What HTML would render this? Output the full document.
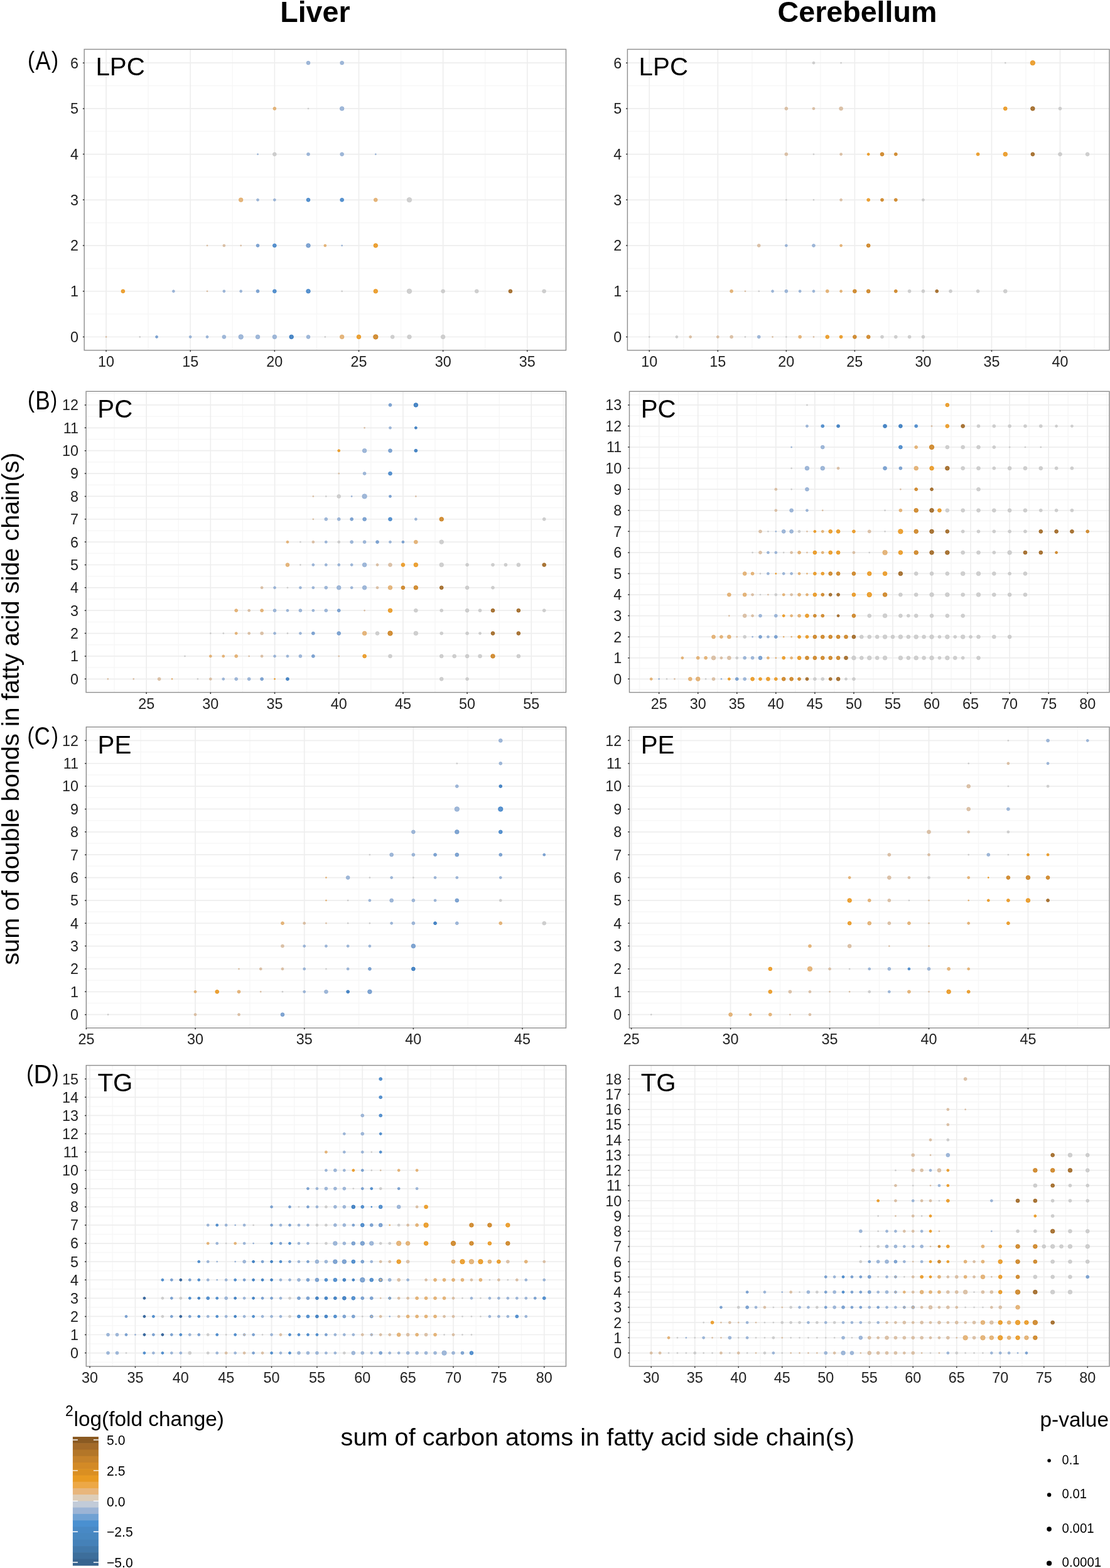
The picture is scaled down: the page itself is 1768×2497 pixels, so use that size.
<!DOCTYPE html>
<html><head><meta charset="utf-8"><title>Lipid fold change</title>
<style>
html,body{margin:0;padding:0;background:#fff;}
body{width:1768px;height:2497px;overflow:hidden;}
svg{display:block;}
.dots circle{fill-opacity:0.78;stroke-opacity:0.78;stroke-width:1;}
text{font-family:"Liberation Sans", Arial, Helvetica, sans-serif;}
.tk{font-size:23.4px;fill:#222;}
.pl{font-size:40.3px;fill:#000;}
.let{font-size:100px;fill:#000;}
.ti{font-size:46.6px;font-weight:bold;fill:#000;}
.at{font-size:39.7px;fill:#000;}
.lt{font-size:33.4px;fill:#000;}
.lt2{font-size:23px;fill:#000;}
.lg{font-size:21.8px;fill:#000;}
</style></head>
<body>
<svg width="1768" height="2497" viewBox="0 0 1768 2497">
<rect width="1768" height="2497" fill="#fff"/>
<g id="pAL">
<path d="M236.15 78.5V557.8M370.29 78.5V557.8M504.44 78.5V557.8M638.58 78.5V557.8M772.72 78.5V557.8M134.2 500.12H901.5M134.2 427.4H901.5M134.2 354.68H901.5M134.2 281.97H901.5M134.2 209.25H901.5M134.2 136.53H901.5" stroke="#f7f7f7" stroke-width="1.5" fill="none"/>
<path d="M169.08 78.5V557.8M303.22 78.5V557.8M437.36 78.5V557.8M571.51 78.5V557.8M705.65 78.5V557.8M839.79 78.5V557.8M134.2 536.48H901.5M134.2 463.76H901.5M134.2 391.04H901.5M134.2 318.32H901.5M134.2 245.61H901.5M134.2 172.89H901.5M134.2 100.17H901.5" stroke="#eeeeee" stroke-width="1.7" fill="none"/>
<g class="dots">
<g fill="#88a6cf" stroke="#88a6cf">
<circle cx="491.02" cy="100.17" r="2.85"/>
<circle cx="544.68" cy="100.17" r="2.85"/>
<circle cx="544.68" cy="172.89" r="3.25"/>
<circle cx="410.54" cy="245.61" r="0.95"/>
<circle cx="491.02" cy="245.61" r="2.4"/>
<circle cx="544.68" cy="245.61" r="2.85"/>
<circle cx="598.34" cy="245.61" r="0.95"/>
<circle cx="410.54" cy="318.32" r="1.9"/>
<circle cx="437.36" cy="318.32" r="1.9"/>
<circle cx="544.68" cy="391.04" r="0.95"/>
<circle cx="276.39" cy="463.76" r="1.9"/>
<circle cx="356.88" cy="463.76" r="1.9"/>
<circle cx="383.71" cy="463.76" r="1.9"/>
<circle cx="303.22" cy="536.48" r="1.9"/>
<circle cx="330.05" cy="536.48" r="1.9"/>
<circle cx="356.88" cy="536.48" r="2.85"/>
<circle cx="383.71" cy="536.48" r="3.7"/>
<circle cx="410.54" cy="536.48" r="3.25"/>
<circle cx="437.36" cy="536.48" r="3.25"/>
<circle cx="491.02" cy="536.48" r="2.85"/>
</g>
<g fill="#dfa45c" stroke="#dfa45c">
<circle cx="437.36" cy="172.89" r="2.4"/>
<circle cx="383.71" cy="318.32" r="3.25"/>
<circle cx="598.34" cy="318.32" r="2.85"/>
<circle cx="517.85" cy="391.04" r="1.9"/>
<circle cx="544.68" cy="536.48" r="3.25"/>
</g>
<g fill="#c4c4c4" stroke="#c4c4c4">
<circle cx="491.02" cy="172.89" r="0.95"/>
<circle cx="437.36" cy="245.61" r="2.85"/>
<circle cx="651.99" cy="318.32" r="3.7"/>
<circle cx="544.68" cy="463.76" r="0.95"/>
<circle cx="651.99" cy="463.76" r="3.7"/>
<circle cx="705.65" cy="463.76" r="2.85"/>
<circle cx="759.31" cy="463.76" r="2.85"/>
<circle cx="866.62" cy="463.76" r="2.85"/>
<circle cx="222.73" cy="536.48" r="0.95"/>
<circle cx="517.85" cy="536.48" r="0.95"/>
<circle cx="625.16" cy="536.48" r="2.85"/>
<circle cx="651.99" cy="536.48" r="3.25"/>
<circle cx="705.65" cy="536.48" r="3.25"/>
</g>
<g fill="#3079c4" stroke="#3079c4">
<circle cx="491.02" cy="318.32" r="2.85"/>
<circle cx="544.68" cy="318.32" r="2.85"/>
<circle cx="437.36" cy="391.04" r="2.85"/>
<circle cx="437.36" cy="463.76" r="2.85"/>
<circle cx="491.02" cy="463.76" r="3.25"/>
</g>
<g fill="#d4b494" stroke="#d4b494">
<circle cx="330.05" cy="391.04" r="0.95"/>
<circle cx="356.88" cy="391.04" r="1.9"/>
<circle cx="383.71" cy="391.04" r="0.95"/>
<circle cx="330.05" cy="463.76" r="0.95"/>
<circle cx="169.08" cy="536.48" r="0.95"/>
</g>
<g fill="#6290c8" stroke="#6290c8">
<circle cx="410.54" cy="391.04" r="2.4"/>
<circle cx="491.02" cy="391.04" r="3.25"/>
<circle cx="410.54" cy="463.76" r="2.4"/>
<circle cx="249.56" cy="536.48" r="1.9"/>
</g>
<g fill="#e88c05" stroke="#e88c05">
<circle cx="598.34" cy="391.04" r="3.25"/>
<circle cx="195.91" cy="463.76" r="2.85"/>
<circle cx="598.34" cy="463.76" r="3.25"/>
<circle cx="571.51" cy="536.48" r="3.25"/>
</g>
<g fill="#955508" stroke="#955508">
<circle cx="812.97" cy="463.76" r="2.85"/>
</g>
<g fill="#1f6ab9" stroke="#1f6ab9">
<circle cx="464.19" cy="536.48" r="3.25"/>
</g>
<g fill="#c87408" stroke="#c87408">
<circle cx="598.34" cy="536.48" r="3.7"/>
</g>
</g>
<rect x="134.2" y="78.5" width="767.3" height="479.3" fill="none" stroke="#8e8e8e" stroke-width="1.4"/>
<path d="M169.08 557.8V560.1M303.22 557.8V560.1M437.36 557.8V560.1M571.51 557.8V560.1M705.65 557.8V560.1M839.79 557.8V560.1M134.2 536.48H131.9M134.2 463.76H131.9M134.2 391.04H131.9M134.2 318.32H131.9M134.2 245.61H131.9M134.2 172.89H131.9M134.2 100.17H131.9" stroke="#333" stroke-width="1.5" fill="none"/>
<text x="125" y="544.88" text-anchor="end" class="tk">0</text>
<text x="125" y="472.16" text-anchor="end" class="tk">1</text>
<text x="125" y="399.44" text-anchor="end" class="tk">2</text>
<text x="125" y="326.72" text-anchor="end" class="tk">3</text>
<text x="125" y="254.01" text-anchor="end" class="tk">4</text>
<text x="125" y="181.29" text-anchor="end" class="tk">5</text>
<text x="125" y="108.57" text-anchor="end" class="tk">6</text>
<text x="169.08" y="584.2" text-anchor="middle" class="tk">10</text>
<text x="303.22" y="584.2" text-anchor="middle" class="tk">15</text>
<text x="437.36" y="584.2" text-anchor="middle" class="tk">20</text>
<text x="571.51" y="584.2" text-anchor="middle" class="tk">25</text>
<text x="705.65" y="584.2" text-anchor="middle" class="tk">30</text>
<text x="839.79" y="584.2" text-anchor="middle" class="tk">35</text>
<text x="152.4" y="120.3" class="pl">LPC</text>
</g>
<g id="pAR">
<path d="M1088.81 78.5V557.8M1197.84 78.5V557.8M1306.88 78.5V557.8M1415.91 78.5V557.8M1524.94 78.5V557.8M1633.98 78.5V557.8M1743.01 78.5V557.8M999.4 500.12H1767M999.4 427.4H1767M999.4 354.68H1767M999.4 281.97H1767M999.4 209.25H1767M999.4 136.53H1767" stroke="#f7f7f7" stroke-width="1.5" fill="none"/>
<path d="M1034.29 78.5V557.8M1143.33 78.5V557.8M1252.36 78.5V557.8M1361.39 78.5V557.8M1470.43 78.5V557.8M1579.46 78.5V557.8M1688.5 78.5V557.8M999.4 536.48H1767M999.4 463.76H1767M999.4 391.04H1767M999.4 318.32H1767M999.4 245.61H1767M999.4 172.89H1767M999.4 100.17H1767" stroke="#eeeeee" stroke-width="1.7" fill="none"/>
<g class="dots">
<g fill="#c4c4c4" stroke="#c4c4c4">
<circle cx="1295.97" cy="100.17" r="1.9"/>
<circle cx="1339.59" cy="100.17" r="0.95"/>
<circle cx="1601.27" cy="100.17" r="0.95"/>
<circle cx="1688.5" cy="172.89" r="2.4"/>
<circle cx="1295.97" cy="245.61" r="0.95"/>
<circle cx="1688.5" cy="245.61" r="2.85"/>
<circle cx="1732.11" cy="245.61" r="2.85"/>
<circle cx="1252.36" cy="318.32" r="0.95"/>
<circle cx="1295.97" cy="318.32" r="0.95"/>
<circle cx="1470.43" cy="318.32" r="1.9"/>
<circle cx="1208.75" cy="463.76" r="0.95"/>
<circle cx="1448.62" cy="463.76" r="2.4"/>
<circle cx="1470.43" cy="463.76" r="2.4"/>
<circle cx="1514.04" cy="463.76" r="2.4"/>
<circle cx="1557.65" cy="463.76" r="2.4"/>
<circle cx="1601.27" cy="463.76" r="2.85"/>
<circle cx="1034.29" cy="536.48" r="0.95"/>
<circle cx="1077.9" cy="536.48" r="1.9"/>
<circle cx="1186.94" cy="536.48" r="0.95"/>
<circle cx="1252.36" cy="536.48" r="0.95"/>
<circle cx="1405.01" cy="536.48" r="2.4"/>
<circle cx="1426.81" cy="536.48" r="2.4"/>
<circle cx="1448.62" cy="536.48" r="2.4"/>
<circle cx="1470.43" cy="536.48" r="2.4"/>
</g>
<g fill="#e88c05" stroke="#e88c05">
<circle cx="1644.88" cy="100.17" r="3.7"/>
<circle cx="1601.27" cy="172.89" r="2.85"/>
<circle cx="1383.2" cy="245.61" r="1.9"/>
<circle cx="1557.65" cy="245.61" r="2.4"/>
<circle cx="1601.27" cy="245.61" r="3.25"/>
<circle cx="1383.2" cy="318.32" r="2.4"/>
<circle cx="1317.78" cy="536.48" r="2.85"/>
<circle cx="1339.59" cy="536.48" r="2.4"/>
</g>
<g fill="#d4b494" stroke="#d4b494">
<circle cx="1252.36" cy="172.89" r="2.4"/>
<circle cx="1295.97" cy="172.89" r="1.9"/>
<circle cx="1339.59" cy="172.89" r="2.85"/>
<circle cx="1252.36" cy="245.61" r="2.4"/>
<circle cx="1339.59" cy="245.61" r="1.9"/>
<circle cx="1339.59" cy="318.32" r="1.9"/>
<circle cx="1208.75" cy="391.04" r="2.4"/>
<circle cx="1186.94" cy="463.76" r="0.95"/>
<circle cx="1099.71" cy="536.48" r="1.9"/>
<circle cx="1143.33" cy="536.48" r="1.9"/>
<circle cx="1165.13" cy="536.48" r="2.4"/>
<circle cx="1230.55" cy="536.48" r="0.95"/>
<circle cx="1295.97" cy="536.48" r="0.95"/>
</g>
<g fill="#955508" stroke="#955508">
<circle cx="1644.88" cy="172.89" r="3.25"/>
<circle cx="1644.88" cy="245.61" r="2.85"/>
<circle cx="1492.23" cy="463.76" r="2.4"/>
</g>
<g fill="#c87408" stroke="#c87408">
<circle cx="1405.01" cy="245.61" r="2.85"/>
<circle cx="1426.81" cy="245.61" r="2.4"/>
<circle cx="1405.01" cy="318.32" r="2.4"/>
<circle cx="1426.81" cy="318.32" r="2.4"/>
<circle cx="1383.2" cy="391.04" r="2.85"/>
<circle cx="1361.39" cy="463.76" r="2.85"/>
<circle cx="1383.2" cy="463.76" r="2.85"/>
<circle cx="1426.81" cy="463.76" r="2.4"/>
<circle cx="1361.39" cy="536.48" r="2.85"/>
<circle cx="1383.2" cy="536.48" r="2.85"/>
</g>
<g fill="#88a6cf" stroke="#88a6cf">
<circle cx="1252.36" cy="391.04" r="1.9"/>
<circle cx="1295.97" cy="391.04" r="2.4"/>
<circle cx="1230.55" cy="463.76" r="1.9"/>
<circle cx="1252.36" cy="463.76" r="2.4"/>
<circle cx="1274.17" cy="463.76" r="1.9"/>
<circle cx="1295.97" cy="463.76" r="1.9"/>
<circle cx="1208.75" cy="536.48" r="2.4"/>
</g>
<g fill="#dfa45c" stroke="#dfa45c">
<circle cx="1339.59" cy="391.04" r="1.9"/>
<circle cx="1165.13" cy="463.76" r="2.4"/>
<circle cx="1317.78" cy="463.76" r="2.4"/>
<circle cx="1339.59" cy="463.76" r="1.9"/>
<circle cx="1274.17" cy="536.48" r="2.4"/>
</g>
</g>
<rect x="999.4" y="78.5" width="767.6" height="479.3" fill="none" stroke="#8e8e8e" stroke-width="1.4"/>
<path d="M1034.29 557.8V560.1M1143.33 557.8V560.1M1252.36 557.8V560.1M1361.39 557.8V560.1M1470.43 557.8V560.1M1579.46 557.8V560.1M1688.5 557.8V560.1M999.4 536.48H997.1M999.4 463.76H997.1M999.4 391.04H997.1M999.4 318.32H997.1M999.4 245.61H997.1M999.4 172.89H997.1M999.4 100.17H997.1" stroke="#333" stroke-width="1.5" fill="none"/>
<text x="990.2" y="544.88" text-anchor="end" class="tk">0</text>
<text x="990.2" y="472.16" text-anchor="end" class="tk">1</text>
<text x="990.2" y="399.44" text-anchor="end" class="tk">2</text>
<text x="990.2" y="326.72" text-anchor="end" class="tk">3</text>
<text x="990.2" y="254.01" text-anchor="end" class="tk">4</text>
<text x="990.2" y="181.29" text-anchor="end" class="tk">5</text>
<text x="990.2" y="108.57" text-anchor="end" class="tk">6</text>
<text x="1034.29" y="584.2" text-anchor="middle" class="tk">10</text>
<text x="1143.33" y="584.2" text-anchor="middle" class="tk">15</text>
<text x="1252.36" y="584.2" text-anchor="middle" class="tk">20</text>
<text x="1361.39" y="584.2" text-anchor="middle" class="tk">25</text>
<text x="1470.43" y="584.2" text-anchor="middle" class="tk">30</text>
<text x="1579.46" y="584.2" text-anchor="middle" class="tk">35</text>
<text x="1688.5" y="584.2" text-anchor="middle" class="tk">40</text>
<text x="1017.6" y="120.3" class="pl">LPC</text>
</g>
<g id="pBL">
<path d="M182.06 623.3V1102.6M284.26 623.3V1102.6M386.45 623.3V1102.6M488.64 623.3V1102.6M590.83 623.3V1102.6M693.03 623.3V1102.6M795.22 623.3V1102.6M897.41 623.3V1102.6M137.1 1099.46H901.5M137.1 1063.1H901.5M137.1 1026.74H901.5M137.1 990.38H901.5M137.1 954.02H901.5M137.1 917.66H901.5M137.1 881.3H901.5M137.1 844.95H901.5M137.1 808.59H901.5M137.1 772.23H901.5M137.1 735.87H901.5M137.1 699.51H901.5M137.1 663.15H901.5M137.1 626.79H901.5" stroke="#f7f7f7" stroke-width="1.5" fill="none"/>
<path d="M233.16 623.3V1102.6M335.35 623.3V1102.6M437.55 623.3V1102.6M539.74 623.3V1102.6M641.93 623.3V1102.6M744.12 623.3V1102.6M846.32 623.3V1102.6M137.1 1081.28H901.5M137.1 1044.92H901.5M137.1 1008.56H901.5M137.1 972.2H901.5M137.1 935.84H901.5M137.1 899.48H901.5M137.1 863.12H901.5M137.1 826.77H901.5M137.1 790.41H901.5M137.1 754.05H901.5M137.1 717.69H901.5M137.1 681.33H901.5M137.1 644.97H901.5" stroke="#eeeeee" stroke-width="1.7" fill="none"/>
<g class="dots">
<g fill="#6290c8" stroke="#6290c8">
<circle cx="621.49" cy="644.97" r="2.4"/>
<circle cx="621.49" cy="717.69" r="2.85"/>
<circle cx="621.49" cy="790.41" r="1.9"/>
<circle cx="560.18" cy="826.77" r="2.4"/>
<circle cx="580.62" cy="826.77" r="2.85"/>
<circle cx="601.05" cy="863.12" r="2.4"/>
<circle cx="641.93" cy="863.12" r="1.9"/>
<circle cx="539.74" cy="972.2" r="2.4"/>
<circle cx="498.86" cy="1008.56" r="2.4"/>
<circle cx="539.74" cy="1008.56" r="2.85"/>
<circle cx="498.86" cy="1044.92" r="2.4"/>
<circle cx="417.11" cy="1081.28" r="2.4"/>
</g>
<g fill="#1f6ab9" stroke="#1f6ab9">
<circle cx="662.37" cy="644.97" r="3.25"/>
<circle cx="662.37" cy="681.33" r="1.9"/>
<circle cx="662.37" cy="717.69" r="2.4"/>
<circle cx="457.98" cy="1081.28" r="2.4"/>
</g>
<g fill="#d4b494" stroke="#d4b494">
<circle cx="580.62" cy="681.33" r="0.95"/>
<circle cx="539.74" cy="754.05" r="0.95"/>
<circle cx="498.86" cy="790.41" r="0.95"/>
<circle cx="662.37" cy="790.41" r="0.95"/>
<circle cx="498.86" cy="826.77" r="0.95"/>
<circle cx="498.86" cy="863.12" r="1.9"/>
<circle cx="601.05" cy="899.48" r="1.9"/>
<circle cx="621.49" cy="899.48" r="2.85"/>
<circle cx="417.11" cy="935.84" r="1.9"/>
<circle cx="601.05" cy="935.84" r="1.9"/>
<circle cx="396.67" cy="972.2" r="1.9"/>
<circle cx="580.62" cy="972.2" r="0.95"/>
<circle cx="396.67" cy="1008.56" r="1.9"/>
<circle cx="417.11" cy="1008.56" r="2.4"/>
<circle cx="396.67" cy="1044.92" r="0.95"/>
<circle cx="417.11" cy="1044.92" r="1.9"/>
<circle cx="539.74" cy="1044.92" r="0.95"/>
<circle cx="171.85" cy="1081.28" r="0.95"/>
<circle cx="212.72" cy="1081.28" r="0.95"/>
<circle cx="253.6" cy="1081.28" r="2.4"/>
<circle cx="335.35" cy="1081.28" r="1.9"/>
</g>
<g fill="#88a6cf" stroke="#88a6cf">
<circle cx="621.49" cy="681.33" r="1.9"/>
<circle cx="580.62" cy="717.69" r="3.25"/>
<circle cx="580.62" cy="754.05" r="2.4"/>
<circle cx="560.18" cy="790.41" r="0.95"/>
<circle cx="580.62" cy="790.41" r="3.7"/>
<circle cx="519.3" cy="826.77" r="2.4"/>
<circle cx="539.74" cy="826.77" r="2.4"/>
<circle cx="662.37" cy="826.77" r="1.9"/>
<circle cx="519.3" cy="863.12" r="1.9"/>
<circle cx="560.18" cy="863.12" r="2.4"/>
<circle cx="580.62" cy="863.12" r="2.4"/>
<circle cx="621.49" cy="863.12" r="1.9"/>
<circle cx="498.86" cy="899.48" r="1.9"/>
<circle cx="519.3" cy="899.48" r="1.9"/>
<circle cx="539.74" cy="899.48" r="1.9"/>
<circle cx="560.18" cy="899.48" r="1.9"/>
<circle cx="580.62" cy="899.48" r="3.25"/>
<circle cx="437.55" cy="935.84" r="1.9"/>
<circle cx="478.42" cy="935.84" r="1.9"/>
<circle cx="498.86" cy="935.84" r="1.9"/>
<circle cx="519.3" cy="935.84" r="2.4"/>
<circle cx="539.74" cy="935.84" r="3.25"/>
<circle cx="560.18" cy="935.84" r="1.9"/>
<circle cx="580.62" cy="935.84" r="3.25"/>
<circle cx="437.55" cy="972.2" r="2.4"/>
<circle cx="457.98" cy="972.2" r="1.9"/>
<circle cx="478.42" cy="972.2" r="2.4"/>
<circle cx="498.86" cy="972.2" r="1.9"/>
<circle cx="519.3" cy="972.2" r="2.4"/>
<circle cx="437.55" cy="1008.56" r="1.9"/>
<circle cx="478.42" cy="1008.56" r="1.9"/>
<circle cx="437.55" cy="1044.92" r="1.9"/>
<circle cx="457.98" cy="1044.92" r="1.9"/>
<circle cx="478.42" cy="1044.92" r="2.4"/>
<circle cx="355.79" cy="1081.28" r="1.9"/>
<circle cx="376.23" cy="1081.28" r="2.4"/>
<circle cx="396.67" cy="1081.28" r="2.4"/>
</g>
<g fill="#e88c05" stroke="#e88c05">
<circle cx="539.74" cy="717.69" r="1.9"/>
<circle cx="641.93" cy="899.48" r="2.85"/>
<circle cx="662.37" cy="899.48" r="3.25"/>
<circle cx="621.49" cy="972.2" r="3.25"/>
<circle cx="580.62" cy="1044.92" r="2.85"/>
<circle cx="437.55" cy="1081.28" r="0.95"/>
</g>
<g fill="#3079c4" stroke="#3079c4">
<circle cx="621.49" cy="754.05" r="2.85"/>
<circle cx="621.49" cy="826.77" r="2.85"/>
</g>
<g fill="#c4c4c4" stroke="#c4c4c4">
<circle cx="519.3" cy="790.41" r="0.95"/>
<circle cx="539.74" cy="790.41" r="2.85"/>
<circle cx="866.75" cy="826.77" r="2.4"/>
<circle cx="478.42" cy="863.12" r="0.95"/>
<circle cx="539.74" cy="863.12" r="1.9"/>
<circle cx="703.25" cy="863.12" r="3.25"/>
<circle cx="478.42" cy="899.48" r="0.95"/>
<circle cx="703.25" cy="899.48" r="3.25"/>
<circle cx="744.12" cy="899.48" r="2.4"/>
<circle cx="785" cy="899.48" r="2.4"/>
<circle cx="805.44" cy="899.48" r="2.4"/>
<circle cx="825.88" cy="899.48" r="2.85"/>
<circle cx="457.98" cy="935.84" r="0.95"/>
<circle cx="744.12" cy="935.84" r="2.85"/>
<circle cx="785" cy="935.84" r="2.4"/>
<circle cx="662.37" cy="972.2" r="2.85"/>
<circle cx="703.25" cy="972.2" r="2.4"/>
<circle cx="744.12" cy="972.2" r="2.85"/>
<circle cx="764.56" cy="972.2" r="2.4"/>
<circle cx="866.75" cy="972.2" r="2.4"/>
<circle cx="335.35" cy="1008.56" r="0.95"/>
<circle cx="355.79" cy="1008.56" r="0.95"/>
<circle cx="457.98" cy="1008.56" r="0.95"/>
<circle cx="601.05" cy="1008.56" r="2.85"/>
<circle cx="662.37" cy="1008.56" r="3.25"/>
<circle cx="703.25" cy="1008.56" r="2.4"/>
<circle cx="744.12" cy="1008.56" r="2.4"/>
<circle cx="764.56" cy="1008.56" r="1.9"/>
<circle cx="294.48" cy="1044.92" r="0.95"/>
<circle cx="621.49" cy="1044.92" r="2.85"/>
<circle cx="703.25" cy="1044.92" r="2.85"/>
<circle cx="723.69" cy="1044.92" r="2.85"/>
<circle cx="744.12" cy="1044.92" r="2.85"/>
<circle cx="764.56" cy="1044.92" r="2.85"/>
<circle cx="825.88" cy="1044.92" r="2.85"/>
<circle cx="314.91" cy="1081.28" r="0.95"/>
<circle cx="703.25" cy="1081.28" r="2.85"/>
<circle cx="744.12" cy="1081.28" r="2.4"/>
</g>
<g fill="#c87408" stroke="#c87408">
<circle cx="703.25" cy="826.77" r="3.25"/>
<circle cx="641.93" cy="935.84" r="2.85"/>
<circle cx="662.37" cy="935.84" r="3.25"/>
<circle cx="621.49" cy="1008.56" r="3.7"/>
<circle cx="785" cy="1044.92" r="3.25"/>
</g>
<g fill="#dfa45c" stroke="#dfa45c">
<circle cx="457.98" cy="863.12" r="1.9"/>
<circle cx="662.37" cy="863.12" r="2.85"/>
<circle cx="457.98" cy="899.48" r="2.85"/>
<circle cx="621.49" cy="935.84" r="3.25"/>
<circle cx="376.23" cy="972.2" r="2.4"/>
<circle cx="417.11" cy="972.2" r="2.4"/>
<circle cx="376.23" cy="1008.56" r="1.9"/>
<circle cx="580.62" cy="1008.56" r="3.25"/>
<circle cx="335.35" cy="1044.92" r="1.9"/>
<circle cx="355.79" cy="1044.92" r="1.9"/>
<circle cx="376.23" cy="1044.92" r="2.4"/>
<circle cx="274.04" cy="1081.28" r="0.95"/>
</g>
<g fill="#955508" stroke="#955508">
<circle cx="866.75" cy="899.48" r="2.85"/>
<circle cx="703.25" cy="935.84" r="2.85"/>
<circle cx="785" cy="972.2" r="2.85"/>
<circle cx="825.88" cy="972.2" r="2.85"/>
<circle cx="785" cy="1008.56" r="2.85"/>
<circle cx="825.88" cy="1008.56" r="2.85"/>
</g>
</g>
<rect x="137.1" y="623.3" width="764.4" height="479.3" fill="none" stroke="#8e8e8e" stroke-width="1.4"/>
<path d="M233.16 1102.6V1104.9M335.35 1102.6V1104.9M437.55 1102.6V1104.9M539.74 1102.6V1104.9M641.93 1102.6V1104.9M744.12 1102.6V1104.9M846.32 1102.6V1104.9M137.1 1081.28H134.8M137.1 1044.92H134.8M137.1 1008.56H134.8M137.1 972.2H134.8M137.1 935.84H134.8M137.1 899.48H134.8M137.1 863.12H134.8M137.1 826.77H134.8M137.1 790.41H134.8M137.1 754.05H134.8M137.1 717.69H134.8M137.1 681.33H134.8M137.1 644.97H134.8" stroke="#333" stroke-width="1.5" fill="none"/>
<text x="125" y="1089.68" text-anchor="end" class="tk">0</text>
<text x="125" y="1053.32" text-anchor="end" class="tk">1</text>
<text x="125" y="1016.96" text-anchor="end" class="tk">2</text>
<text x="125" y="980.6" text-anchor="end" class="tk">3</text>
<text x="125" y="944.24" text-anchor="end" class="tk">4</text>
<text x="125" y="907.88" text-anchor="end" class="tk">5</text>
<text x="125" y="871.52" text-anchor="end" class="tk">6</text>
<text x="125" y="835.17" text-anchor="end" class="tk">7</text>
<text x="125" y="798.81" text-anchor="end" class="tk">8</text>
<text x="125" y="762.45" text-anchor="end" class="tk">9</text>
<text x="125" y="726.09" text-anchor="end" class="tk">10</text>
<text x="125" y="689.73" text-anchor="end" class="tk">11</text>
<text x="125" y="653.37" text-anchor="end" class="tk">12</text>
<text x="233.16" y="1129" text-anchor="middle" class="tk">25</text>
<text x="335.35" y="1129" text-anchor="middle" class="tk">30</text>
<text x="437.55" y="1129" text-anchor="middle" class="tk">35</text>
<text x="539.74" y="1129" text-anchor="middle" class="tk">40</text>
<text x="641.93" y="1129" text-anchor="middle" class="tk">45</text>
<text x="744.12" y="1129" text-anchor="middle" class="tk">50</text>
<text x="846.32" y="1129" text-anchor="middle" class="tk">55</text>
<text x="155.3" y="665.1" class="pl">PC</text>
</g>
<g id="pBR">
<path d="M1018.63 623.3V1102.6M1080.69 623.3V1102.6M1142.74 623.3V1102.6M1204.79 623.3V1102.6M1266.85 623.3V1102.6M1328.9 623.3V1102.6M1390.96 623.3V1102.6M1453.01 623.3V1102.6M1515.06 623.3V1102.6M1577.12 623.3V1102.6M1639.17 623.3V1102.6M1701.22 623.3V1102.6M1763.28 623.3V1102.6M1002.5 1098.07H1767M1002.5 1064.5H1767M1002.5 1030.94H1767M1002.5 997.38H1767M1002.5 963.81H1767M1002.5 930.25H1767M1002.5 896.69H1767M1002.5 863.12H1767M1002.5 829.56H1767M1002.5 796H1767M1002.5 762.44H1767M1002.5 728.87H1767M1002.5 695.31H1767M1002.5 661.75H1767M1002.5 628.18H1767" stroke="#f7f7f7" stroke-width="1.5" fill="none"/>
<path d="M1049.66 623.3V1102.6M1111.71 623.3V1102.6M1173.77 623.3V1102.6M1235.82 623.3V1102.6M1297.88 623.3V1102.6M1359.93 623.3V1102.6M1421.98 623.3V1102.6M1484.04 623.3V1102.6M1546.09 623.3V1102.6M1608.14 623.3V1102.6M1670.2 623.3V1102.6M1732.25 623.3V1102.6M1002.5 1081.28H1767M1002.5 1047.72H1767M1002.5 1014.16H1767M1002.5 980.6H1767M1002.5 947.03H1767M1002.5 913.47H1767M1002.5 879.91H1767M1002.5 846.34H1767M1002.5 812.78H1767M1002.5 779.22H1767M1002.5 745.65H1767M1002.5 712.09H1767M1002.5 678.53H1767M1002.5 644.97H1767" stroke="#eeeeee" stroke-width="1.7" fill="none"/>
<g class="dots">
<g fill="#c4c4c4" stroke="#c4c4c4">
<circle cx="1285.46" cy="644.97" r="0.95"/>
<circle cx="1558.5" cy="678.53" r="2.4"/>
<circle cx="1583.32" cy="678.53" r="2.4"/>
<circle cx="1608.14" cy="678.53" r="2.4"/>
<circle cx="1632.96" cy="678.53" r="2.4"/>
<circle cx="1657.79" cy="678.53" r="2.4"/>
<circle cx="1682.61" cy="678.53" r="1.9"/>
<circle cx="1707.43" cy="678.53" r="1.9"/>
<circle cx="1508.86" cy="712.09" r="2.85"/>
<circle cx="1533.68" cy="712.09" r="2.85"/>
<circle cx="1558.5" cy="712.09" r="2.85"/>
<circle cx="1583.32" cy="712.09" r="2.4"/>
<circle cx="1608.14" cy="712.09" r="0.95"/>
<circle cx="1632.96" cy="712.09" r="0.95"/>
<circle cx="1657.79" cy="712.09" r="0.95"/>
<circle cx="1260.64" cy="745.65" r="0.95"/>
<circle cx="1533.68" cy="745.65" r="2.85"/>
<circle cx="1558.5" cy="745.65" r="2.85"/>
<circle cx="1583.32" cy="745.65" r="2.4"/>
<circle cx="1608.14" cy="745.65" r="2.85"/>
<circle cx="1632.96" cy="745.65" r="2.85"/>
<circle cx="1657.79" cy="745.65" r="2.85"/>
<circle cx="1682.61" cy="745.65" r="2.4"/>
<circle cx="1707.43" cy="745.65" r="2.4"/>
<circle cx="1260.64" cy="779.22" r="0.95"/>
<circle cx="1558.5" cy="779.22" r="2.85"/>
<circle cx="1409.57" cy="812.78" r="0.95"/>
<circle cx="1508.86" cy="812.78" r="2.85"/>
<circle cx="1533.68" cy="812.78" r="2.85"/>
<circle cx="1558.5" cy="812.78" r="2.85"/>
<circle cx="1583.32" cy="812.78" r="2.85"/>
<circle cx="1608.14" cy="812.78" r="2.85"/>
<circle cx="1632.96" cy="812.78" r="2.85"/>
<circle cx="1657.79" cy="812.78" r="2.4"/>
<circle cx="1682.61" cy="812.78" r="2.4"/>
<circle cx="1707.43" cy="812.78" r="2.4"/>
<circle cx="1223.41" cy="846.34" r="0.95"/>
<circle cx="1273.05" cy="846.34" r="1.9"/>
<circle cx="1409.57" cy="846.34" r="0.95"/>
<circle cx="1533.68" cy="846.34" r="2.4"/>
<circle cx="1558.5" cy="846.34" r="2.4"/>
<circle cx="1583.32" cy="846.34" r="2.4"/>
<circle cx="1608.14" cy="846.34" r="2.4"/>
<circle cx="1632.96" cy="846.34" r="2.4"/>
<circle cx="1198.59" cy="879.91" r="0.95"/>
<circle cx="1248.23" cy="879.91" r="0.95"/>
<circle cx="1384.75" cy="879.91" r="0.95"/>
<circle cx="1533.68" cy="879.91" r="2.85"/>
<circle cx="1558.5" cy="879.91" r="2.85"/>
<circle cx="1583.32" cy="879.91" r="2.4"/>
<circle cx="1608.14" cy="879.91" r="3.25"/>
<circle cx="1211" cy="913.47" r="0.95"/>
<circle cx="1459.21" cy="913.47" r="2.85"/>
<circle cx="1484.04" cy="913.47" r="2.85"/>
<circle cx="1508.86" cy="913.47" r="2.85"/>
<circle cx="1533.68" cy="913.47" r="3.25"/>
<circle cx="1558.5" cy="913.47" r="3.25"/>
<circle cx="1583.32" cy="913.47" r="2.85"/>
<circle cx="1608.14" cy="913.47" r="2.4"/>
<circle cx="1632.96" cy="913.47" r="2.85"/>
<circle cx="1211" cy="947.03" r="0.95"/>
<circle cx="1235.82" cy="947.03" r="1.9"/>
<circle cx="1434.39" cy="947.03" r="2.85"/>
<circle cx="1459.21" cy="947.03" r="2.85"/>
<circle cx="1484.04" cy="947.03" r="3.25"/>
<circle cx="1508.86" cy="947.03" r="3.25"/>
<circle cx="1533.68" cy="947.03" r="2.85"/>
<circle cx="1558.5" cy="947.03" r="3.25"/>
<circle cx="1583.32" cy="947.03" r="2.85"/>
<circle cx="1608.14" cy="947.03" r="2.85"/>
<circle cx="1632.96" cy="947.03" r="2.85"/>
<circle cx="1384.75" cy="980.6" r="2.85"/>
<circle cx="1409.57" cy="980.6" r="3.25"/>
<circle cx="1434.39" cy="980.6" r="2.85"/>
<circle cx="1446.8" cy="980.6" r="2.4"/>
<circle cx="1459.21" cy="980.6" r="2.85"/>
<circle cx="1484.04" cy="980.6" r="2.85"/>
<circle cx="1508.86" cy="980.6" r="2.85"/>
<circle cx="1533.68" cy="980.6" r="2.85"/>
<circle cx="1186.18" cy="1014.16" r="2.4"/>
<circle cx="1372.34" cy="1014.16" r="2.85"/>
<circle cx="1384.75" cy="1014.16" r="2.85"/>
<circle cx="1397.16" cy="1014.16" r="2.85"/>
<circle cx="1409.57" cy="1014.16" r="3.25"/>
<circle cx="1421.98" cy="1014.16" r="2.85"/>
<circle cx="1434.39" cy="1014.16" r="3.25"/>
<circle cx="1446.8" cy="1014.16" r="2.85"/>
<circle cx="1459.21" cy="1014.16" r="3.25"/>
<circle cx="1471.62" cy="1014.16" r="2.85"/>
<circle cx="1484.04" cy="1014.16" r="3.25"/>
<circle cx="1496.45" cy="1014.16" r="2.4"/>
<circle cx="1508.86" cy="1014.16" r="3.25"/>
<circle cx="1521.27" cy="1014.16" r="2.4"/>
<circle cx="1533.68" cy="1014.16" r="3.25"/>
<circle cx="1546.09" cy="1014.16" r="2.4"/>
<circle cx="1558.5" cy="1014.16" r="2.85"/>
<circle cx="1583.32" cy="1014.16" r="2.85"/>
<circle cx="1608.14" cy="1014.16" r="2.85"/>
<circle cx="1173.77" cy="1047.72" r="1.9"/>
<circle cx="1359.93" cy="1047.72" r="3.25"/>
<circle cx="1372.34" cy="1047.72" r="2.85"/>
<circle cx="1384.75" cy="1047.72" r="3.25"/>
<circle cx="1397.16" cy="1047.72" r="2.85"/>
<circle cx="1409.57" cy="1047.72" r="3.25"/>
<circle cx="1434.39" cy="1047.72" r="3.25"/>
<circle cx="1446.8" cy="1047.72" r="2.85"/>
<circle cx="1459.21" cy="1047.72" r="3.25"/>
<circle cx="1471.62" cy="1047.72" r="2.85"/>
<circle cx="1484.04" cy="1047.72" r="3.25"/>
<circle cx="1496.45" cy="1047.72" r="2.4"/>
<circle cx="1508.86" cy="1047.72" r="3.25"/>
<circle cx="1521.27" cy="1047.72" r="2.85"/>
<circle cx="1533.68" cy="1047.72" r="2.4"/>
<circle cx="1558.5" cy="1047.72" r="2.85"/>
<circle cx="1062.07" cy="1081.28" r="0.95"/>
<circle cx="1124.12" cy="1081.28" r="0.95"/>
<circle cx="1297.88" cy="1081.28" r="2.4"/>
<circle cx="1310.29" cy="1081.28" r="2.4"/>
<circle cx="1347.52" cy="1081.28" r="1.9"/>
<circle cx="1359.93" cy="1081.28" r="2.4"/>
</g>
<g fill="#e88c05" stroke="#e88c05">
<circle cx="1508.86" cy="644.97" r="2.85"/>
<circle cx="1508.86" cy="678.53" r="2.85"/>
<circle cx="1484.04" cy="745.65" r="3.25"/>
<circle cx="1496.45" cy="812.78" r="2.85"/>
<circle cx="1297.88" cy="846.34" r="1.9"/>
<circle cx="1322.7" cy="846.34" r="2.85"/>
<circle cx="1335.11" cy="846.34" r="2.85"/>
<circle cx="1359.93" cy="846.34" r="2.4"/>
<circle cx="1434.39" cy="846.34" r="3.7"/>
<circle cx="1297.88" cy="879.91" r="2.85"/>
<circle cx="1322.7" cy="879.91" r="2.85"/>
<circle cx="1335.11" cy="879.91" r="2.85"/>
<circle cx="1434.39" cy="879.91" r="3.25"/>
<circle cx="1235.82" cy="913.47" r="0.95"/>
<circle cx="1297.88" cy="913.47" r="2.4"/>
<circle cx="1310.29" cy="913.47" r="2.4"/>
<circle cx="1384.75" cy="913.47" r="3.25"/>
<circle cx="1409.57" cy="913.47" r="3.25"/>
<circle cx="1297.88" cy="947.03" r="2.85"/>
<circle cx="1359.93" cy="947.03" r="2.85"/>
<circle cx="1384.75" cy="947.03" r="3.7"/>
<circle cx="1248.23" cy="980.6" r="1.9"/>
<circle cx="1285.46" cy="980.6" r="2.85"/>
<circle cx="1273.05" cy="1014.16" r="2.4"/>
<circle cx="1285.46" cy="1014.16" r="2.4"/>
<circle cx="1248.23" cy="1047.72" r="2.4"/>
<circle cx="1273.05" cy="1047.72" r="2.85"/>
<circle cx="1161.36" cy="1081.28" r="1.9"/>
<circle cx="1198.59" cy="1081.28" r="2.85"/>
<circle cx="1211" cy="1081.28" r="2.4"/>
<circle cx="1223.41" cy="1081.28" r="2.85"/>
<circle cx="1235.82" cy="1081.28" r="2.4"/>
</g>
<g fill="#88a6cf" stroke="#88a6cf">
<circle cx="1285.46" cy="678.53" r="1.9"/>
<circle cx="1260.64" cy="712.09" r="0.95"/>
<circle cx="1310.29" cy="712.09" r="2.85"/>
<circle cx="1285.46" cy="745.65" r="3.25"/>
<circle cx="1310.29" cy="745.65" r="3.25"/>
<circle cx="1285.46" cy="779.22" r="2.85"/>
<circle cx="1260.64" cy="812.78" r="2.85"/>
<circle cx="1285.46" cy="812.78" r="1.9"/>
<circle cx="1235.82" cy="846.34" r="0.95"/>
<circle cx="1248.23" cy="846.34" r="2.85"/>
<circle cx="1260.64" cy="846.34" r="2.85"/>
<circle cx="1223.41" cy="879.91" r="1.9"/>
<circle cx="1235.82" cy="879.91" r="1.9"/>
<circle cx="1223.41" cy="913.47" r="1.9"/>
<circle cx="1248.23" cy="913.47" r="1.9"/>
<circle cx="1260.64" cy="913.47" r="1.9"/>
<circle cx="1211" cy="980.6" r="2.4"/>
<circle cx="1235.82" cy="980.6" r="2.4"/>
<circle cx="1198.59" cy="1014.16" r="0.95"/>
<circle cx="1223.41" cy="1014.16" r="1.9"/>
<circle cx="1186.18" cy="1047.72" r="2.4"/>
<circle cx="1198.59" cy="1047.72" r="2.4"/>
<circle cx="1049.66" cy="1081.28" r="0.95"/>
<circle cx="1148.95" cy="1081.28" r="0.95"/>
<circle cx="1186.18" cy="1081.28" r="2.4"/>
</g>
<g fill="#3079c4" stroke="#3079c4">
<circle cx="1310.29" cy="678.53" r="2.4"/>
<circle cx="1459.21" cy="678.53" r="2.4"/>
<circle cx="1434.39" cy="712.09" r="2.85"/>
</g>
<g fill="#1f6ab9" stroke="#1f6ab9">
<circle cx="1335.11" cy="678.53" r="2.4"/>
<circle cx="1409.57" cy="678.53" r="2.85"/>
<circle cx="1434.39" cy="678.53" r="2.85"/>
</g>
<g fill="#d4b494" stroke="#d4b494">
<circle cx="1484.04" cy="678.53" r="0.95"/>
<circle cx="1335.11" cy="745.65" r="1.9"/>
<circle cx="1235.82" cy="779.22" r="1.9"/>
<circle cx="1434.39" cy="779.22" r="0.95"/>
<circle cx="1235.82" cy="812.78" r="1.9"/>
<circle cx="1310.29" cy="812.78" r="0.95"/>
<circle cx="1211" cy="846.34" r="2.4"/>
<circle cx="1285.46" cy="846.34" r="0.95"/>
<circle cx="1384.75" cy="846.34" r="2.4"/>
<circle cx="1211" cy="879.91" r="2.4"/>
<circle cx="1260.64" cy="879.91" r="1.9"/>
<circle cx="1285.46" cy="879.91" r="0.95"/>
<circle cx="1359.93" cy="879.91" r="1.9"/>
<circle cx="1198.59" cy="947.03" r="1.9"/>
<circle cx="1223.41" cy="947.03" r="0.95"/>
<circle cx="1260.64" cy="947.03" r="1.9"/>
<circle cx="1161.36" cy="980.6" r="0.95"/>
<circle cx="1186.18" cy="980.6" r="2.85"/>
<circle cx="1198.59" cy="980.6" r="1.9"/>
<circle cx="1173.77" cy="1014.16" r="0.95"/>
<circle cx="1136.54" cy="1047.72" r="3.25"/>
<circle cx="1148.95" cy="1047.72" r="1.9"/>
<circle cx="1161.36" cy="1047.72" r="2.85"/>
<circle cx="1074.48" cy="1081.28" r="0.95"/>
<circle cx="1136.54" cy="1081.28" r="2.4"/>
</g>
<g fill="#955508" stroke="#955508">
<circle cx="1533.68" cy="678.53" r="2.85"/>
<circle cx="1508.86" cy="745.65" r="3.25"/>
<circle cx="1484.04" cy="779.22" r="2.4"/>
<circle cx="1484.04" cy="812.78" r="3.25"/>
<circle cx="1484.04" cy="846.34" r="3.25"/>
<circle cx="1508.86" cy="846.34" r="2.85"/>
<circle cx="1657.79" cy="846.34" r="2.85"/>
<circle cx="1682.61" cy="846.34" r="2.85"/>
<circle cx="1707.43" cy="846.34" r="2.85"/>
<circle cx="1484.04" cy="879.91" r="3.25"/>
<circle cx="1508.86" cy="879.91" r="3.25"/>
<circle cx="1632.96" cy="879.91" r="2.85"/>
<circle cx="1657.79" cy="879.91" r="2.85"/>
<circle cx="1434.39" cy="913.47" r="3.25"/>
<circle cx="1322.7" cy="947.03" r="2.4"/>
<circle cx="1335.11" cy="947.03" r="2.4"/>
<circle cx="1335.11" cy="980.6" r="1.9"/>
<circle cx="1359.93" cy="1014.16" r="2.85"/>
<circle cx="1347.52" cy="1047.72" r="2.85"/>
<circle cx="1285.46" cy="1081.28" r="2.4"/>
<circle cx="1322.7" cy="1081.28" r="2.4"/>
<circle cx="1335.11" cy="1081.28" r="2.85"/>
</g>
<g fill="#dfa45c" stroke="#dfa45c">
<circle cx="1459.21" cy="712.09" r="2.4"/>
<circle cx="1459.21" cy="745.65" r="3.25"/>
<circle cx="1434.39" cy="812.78" r="2.4"/>
<circle cx="1310.29" cy="846.34" r="1.9"/>
<circle cx="1273.05" cy="879.91" r="2.4"/>
<circle cx="1310.29" cy="879.91" r="1.9"/>
<circle cx="1409.57" cy="879.91" r="3.7"/>
<circle cx="1186.18" cy="913.47" r="2.85"/>
<circle cx="1198.59" cy="913.47" r="2.4"/>
<circle cx="1273.05" cy="913.47" r="1.9"/>
<circle cx="1285.46" cy="913.47" r="0.95"/>
<circle cx="1161.36" cy="947.03" r="2.85"/>
<circle cx="1186.18" cy="947.03" r="2.85"/>
<circle cx="1248.23" cy="947.03" r="1.9"/>
<circle cx="1273.05" cy="947.03" r="2.4"/>
<circle cx="1285.46" cy="947.03" r="1.9"/>
<circle cx="1260.64" cy="980.6" r="1.9"/>
<circle cx="1273.05" cy="980.6" r="2.4"/>
<circle cx="1136.54" cy="1014.16" r="2.85"/>
<circle cx="1148.95" cy="1014.16" r="2.4"/>
<circle cx="1161.36" cy="1014.16" r="2.85"/>
<circle cx="1248.23" cy="1014.16" r="0.95"/>
<circle cx="1260.64" cy="1014.16" r="0.95"/>
<circle cx="1086.89" cy="1047.72" r="1.9"/>
<circle cx="1111.71" cy="1047.72" r="2.4"/>
<circle cx="1124.12" cy="1047.72" r="2.4"/>
<circle cx="1223.41" cy="1047.72" r="1.9"/>
<circle cx="1235.82" cy="1047.72" r="0.95"/>
<circle cx="1260.64" cy="1047.72" r="1.9"/>
<circle cx="1037.25" cy="1081.28" r="1.9"/>
<circle cx="1099.3" cy="1081.28" r="2.85"/>
<circle cx="1111.71" cy="1081.28" r="3.25"/>
</g>
<g fill="#c87408" stroke="#c87408">
<circle cx="1484.04" cy="712.09" r="3.7"/>
<circle cx="1459.21" cy="779.22" r="2.4"/>
<circle cx="1459.21" cy="812.78" r="3.25"/>
<circle cx="1459.21" cy="846.34" r="3.25"/>
<circle cx="1732.25" cy="846.34" r="2.4"/>
<circle cx="1459.21" cy="879.91" r="3.25"/>
<circle cx="1682.61" cy="879.91" r="1.9"/>
<circle cx="1322.7" cy="913.47" r="2.85"/>
<circle cx="1335.11" cy="913.47" r="2.85"/>
<circle cx="1359.93" cy="913.47" r="2.85"/>
<circle cx="1310.29" cy="947.03" r="2.4"/>
<circle cx="1409.57" cy="947.03" r="3.25"/>
<circle cx="1297.88" cy="980.6" r="2.4"/>
<circle cx="1310.29" cy="980.6" r="2.4"/>
<circle cx="1359.93" cy="980.6" r="2.85"/>
<circle cx="1297.88" cy="1014.16" r="2.85"/>
<circle cx="1310.29" cy="1014.16" r="2.85"/>
<circle cx="1322.7" cy="1014.16" r="2.85"/>
<circle cx="1335.11" cy="1014.16" r="2.85"/>
<circle cx="1347.52" cy="1014.16" r="2.85"/>
<circle cx="1285.46" cy="1047.72" r="2.85"/>
<circle cx="1297.88" cy="1047.72" r="2.85"/>
<circle cx="1310.29" cy="1047.72" r="2.85"/>
<circle cx="1322.7" cy="1047.72" r="2.85"/>
<circle cx="1335.11" cy="1047.72" r="2.85"/>
<circle cx="1248.23" cy="1081.28" r="2.85"/>
<circle cx="1260.64" cy="1081.28" r="2.85"/>
<circle cx="1273.05" cy="1081.28" r="2.4"/>
</g>
<g fill="#6290c8" stroke="#6290c8">
<circle cx="1409.57" cy="745.65" r="2.85"/>
<circle cx="1434.39" cy="745.65" r="2.4"/>
<circle cx="1211" cy="1014.16" r="2.4"/>
<circle cx="1235.82" cy="1014.16" r="2.4"/>
<circle cx="1211" cy="1047.72" r="2.85"/>
<circle cx="1173.77" cy="1081.28" r="2.4"/>
</g>
</g>
<rect x="1002.5" y="623.3" width="764.5" height="479.3" fill="none" stroke="#8e8e8e" stroke-width="1.4"/>
<path d="M1049.66 1102.6V1104.9M1111.71 1102.6V1104.9M1173.77 1102.6V1104.9M1235.82 1102.6V1104.9M1297.88 1102.6V1104.9M1359.93 1102.6V1104.9M1421.98 1102.6V1104.9M1484.04 1102.6V1104.9M1546.09 1102.6V1104.9M1608.14 1102.6V1104.9M1670.2 1102.6V1104.9M1732.25 1102.6V1104.9M1002.5 1081.28H1000.2M1002.5 1047.72H1000.2M1002.5 1014.16H1000.2M1002.5 980.6H1000.2M1002.5 947.03H1000.2M1002.5 913.47H1000.2M1002.5 879.91H1000.2M1002.5 846.34H1000.2M1002.5 812.78H1000.2M1002.5 779.22H1000.2M1002.5 745.65H1000.2M1002.5 712.09H1000.2M1002.5 678.53H1000.2M1002.5 644.97H1000.2" stroke="#333" stroke-width="1.5" fill="none"/>
<text x="990.2" y="1089.68" text-anchor="end" class="tk">0</text>
<text x="990.2" y="1056.12" text-anchor="end" class="tk">1</text>
<text x="990.2" y="1022.56" text-anchor="end" class="tk">2</text>
<text x="990.2" y="989" text-anchor="end" class="tk">3</text>
<text x="990.2" y="955.43" text-anchor="end" class="tk">4</text>
<text x="990.2" y="921.87" text-anchor="end" class="tk">5</text>
<text x="990.2" y="888.31" text-anchor="end" class="tk">6</text>
<text x="990.2" y="854.74" text-anchor="end" class="tk">7</text>
<text x="990.2" y="821.18" text-anchor="end" class="tk">8</text>
<text x="990.2" y="787.62" text-anchor="end" class="tk">9</text>
<text x="990.2" y="754.05" text-anchor="end" class="tk">10</text>
<text x="990.2" y="720.49" text-anchor="end" class="tk">11</text>
<text x="990.2" y="686.93" text-anchor="end" class="tk">12</text>
<text x="990.2" y="653.37" text-anchor="end" class="tk">13</text>
<text x="1049.66" y="1129" text-anchor="middle" class="tk">25</text>
<text x="1111.71" y="1129" text-anchor="middle" class="tk">30</text>
<text x="1173.77" y="1129" text-anchor="middle" class="tk">35</text>
<text x="1235.82" y="1129" text-anchor="middle" class="tk">40</text>
<text x="1297.88" y="1129" text-anchor="middle" class="tk">45</text>
<text x="1359.93" y="1129" text-anchor="middle" class="tk">50</text>
<text x="1421.98" y="1129" text-anchor="middle" class="tk">55</text>
<text x="1484.04" y="1129" text-anchor="middle" class="tk">60</text>
<text x="1546.09" y="1129" text-anchor="middle" class="tk">65</text>
<text x="1608.14" y="1129" text-anchor="middle" class="tk">70</text>
<text x="1670.2" y="1129" text-anchor="middle" class="tk">75</text>
<text x="1732.25" y="1129" text-anchor="middle" class="tk">80</text>
<text x="1020.7" y="665.1" class="pl">PC</text>
</g>
<g id="pCL">
<path d="M224.23 1157.7V1637M397.89 1157.7V1637M571.55 1157.7V1637M745.21 1157.7V1637M137.4 1633.86H901.5M137.4 1597.5H901.5M137.4 1561.14H901.5M137.4 1524.78H901.5M137.4 1488.42H901.5M137.4 1452.06H901.5M137.4 1415.7H901.5M137.4 1379.35H901.5M137.4 1342.99H901.5M137.4 1306.63H901.5M137.4 1270.27H901.5M137.4 1233.91H901.5M137.4 1197.55H901.5M137.4 1161.19H901.5" stroke="#f7f7f7" stroke-width="1.5" fill="none"/>
<path d="M137.4 1157.7V1637M311.06 1157.7V1637M484.72 1157.7V1637M658.38 1157.7V1637M832.04 1157.7V1637M137.4 1615.68H901.5M137.4 1579.32H901.5M137.4 1542.96H901.5M137.4 1506.6H901.5M137.4 1470.24H901.5M137.4 1433.88H901.5M137.4 1397.53H901.5M137.4 1361.17H901.5M137.4 1324.81H901.5M137.4 1288.45H901.5M137.4 1252.09H901.5M137.4 1215.73H901.5M137.4 1179.37H901.5" stroke="#eeeeee" stroke-width="1.7" fill="none"/>
<g class="dots">
<g fill="#88a6cf" stroke="#88a6cf">
<circle cx="797.3" cy="1179.37" r="2.85"/>
<circle cx="797.3" cy="1215.73" r="2.4"/>
<circle cx="727.84" cy="1252.09" r="2.4"/>
<circle cx="727.84" cy="1288.45" r="3.7"/>
<circle cx="658.38" cy="1324.81" r="2.85"/>
<circle cx="623.65" cy="1361.17" r="2.85"/>
<circle cx="658.38" cy="1361.17" r="2.4"/>
<circle cx="554.18" cy="1397.53" r="2.85"/>
<circle cx="623.65" cy="1397.53" r="1.9"/>
<circle cx="693.11" cy="1397.53" r="1.9"/>
<circle cx="727.84" cy="1397.53" r="1.9"/>
<circle cx="797.3" cy="1397.53" r="1.9"/>
<circle cx="588.91" cy="1433.88" r="1.9"/>
<circle cx="623.65" cy="1433.88" r="2.85"/>
<circle cx="658.38" cy="1433.88" r="2.4"/>
<circle cx="693.11" cy="1433.88" r="1.9"/>
<circle cx="623.65" cy="1470.24" r="1.9"/>
<circle cx="658.38" cy="1470.24" r="2.4"/>
<circle cx="727.84" cy="1470.24" r="2.4"/>
<circle cx="484.72" cy="1506.6" r="1.9"/>
<circle cx="519.45" cy="1506.6" r="1.9"/>
<circle cx="554.18" cy="1506.6" r="1.9"/>
<circle cx="588.91" cy="1506.6" r="1.9"/>
<circle cx="484.72" cy="1542.96" r="1.9"/>
<circle cx="554.18" cy="1542.96" r="1.9"/>
<circle cx="484.72" cy="1579.32" r="1.9"/>
<circle cx="519.45" cy="1579.32" r="2.85"/>
</g>
<g fill="#c4c4c4" stroke="#c4c4c4">
<circle cx="727.84" cy="1215.73" r="0.95"/>
<circle cx="588.91" cy="1361.17" r="0.95"/>
<circle cx="588.91" cy="1397.53" r="0.95"/>
<circle cx="658.38" cy="1397.53" r="0.95"/>
<circle cx="554.18" cy="1433.88" r="0.95"/>
<circle cx="797.3" cy="1433.88" r="1.9"/>
<circle cx="554.18" cy="1470.24" r="0.95"/>
<circle cx="588.91" cy="1470.24" r="0.95"/>
<circle cx="866.77" cy="1470.24" r="2.85"/>
<circle cx="519.45" cy="1542.96" r="0.95"/>
<circle cx="449.99" cy="1579.32" r="0.95"/>
<circle cx="172.13" cy="1615.68" r="0.95"/>
</g>
<g fill="#1f6ab9" stroke="#1f6ab9">
<circle cx="797.3" cy="1252.09" r="2.4"/>
<circle cx="693.11" cy="1470.24" r="2.4"/>
<circle cx="658.38" cy="1542.96" r="2.85"/>
<circle cx="554.18" cy="1579.32" r="2.4"/>
</g>
<g fill="#3079c4" stroke="#3079c4">
<circle cx="797.3" cy="1288.45" r="3.7"/>
<circle cx="797.3" cy="1324.81" r="2.85"/>
</g>
<g fill="#6290c8" stroke="#6290c8">
<circle cx="727.84" cy="1324.81" r="3.25"/>
<circle cx="693.11" cy="1361.17" r="2.4"/>
<circle cx="727.84" cy="1361.17" r="2.85"/>
<circle cx="797.3" cy="1361.17" r="2.4"/>
<circle cx="866.77" cy="1361.17" r="1.9"/>
<circle cx="727.84" cy="1433.88" r="2.85"/>
<circle cx="658.38" cy="1506.6" r="3.25"/>
<circle cx="588.91" cy="1542.96" r="2.4"/>
<circle cx="588.91" cy="1579.32" r="3.25"/>
<circle cx="449.99" cy="1615.68" r="2.85"/>
</g>
<g fill="#dfa45c" stroke="#dfa45c">
<circle cx="519.45" cy="1397.53" r="0.95"/>
<circle cx="519.45" cy="1433.88" r="0.95"/>
<circle cx="449.99" cy="1470.24" r="2.4"/>
<circle cx="797.3" cy="1470.24" r="2.4"/>
<circle cx="311.06" cy="1579.32" r="1.9"/>
<circle cx="380.52" cy="1579.32" r="2.4"/>
</g>
<g fill="#d4b494" stroke="#d4b494">
<circle cx="484.72" cy="1470.24" r="1.9"/>
<circle cx="519.45" cy="1470.24" r="0.95"/>
<circle cx="449.99" cy="1506.6" r="2.4"/>
<circle cx="380.52" cy="1542.96" r="0.95"/>
<circle cx="415.25" cy="1542.96" r="1.9"/>
<circle cx="449.99" cy="1542.96" r="1.9"/>
<circle cx="415.25" cy="1579.32" r="0.95"/>
<circle cx="311.06" cy="1615.68" r="1.9"/>
<circle cx="380.52" cy="1615.68" r="1.9"/>
</g>
<g fill="#e88c05" stroke="#e88c05">
<circle cx="345.79" cy="1579.32" r="2.85"/>
</g>
</g>
<rect x="137.4" y="1157.7" width="764.1" height="479.3" fill="none" stroke="#8e8e8e" stroke-width="1.4"/>
<path d="M137.4 1637V1639.3M311.06 1637V1639.3M484.72 1637V1639.3M658.38 1637V1639.3M832.04 1637V1639.3M137.4 1615.68H135.1M137.4 1579.32H135.1M137.4 1542.96H135.1M137.4 1506.6H135.1M137.4 1470.24H135.1M137.4 1433.88H135.1M137.4 1397.53H135.1M137.4 1361.17H135.1M137.4 1324.81H135.1M137.4 1288.45H135.1M137.4 1252.09H135.1M137.4 1215.73H135.1M137.4 1179.37H135.1" stroke="#333" stroke-width="1.5" fill="none"/>
<text x="125" y="1624.08" text-anchor="end" class="tk">0</text>
<text x="125" y="1587.72" text-anchor="end" class="tk">1</text>
<text x="125" y="1551.36" text-anchor="end" class="tk">2</text>
<text x="125" y="1515" text-anchor="end" class="tk">3</text>
<text x="125" y="1478.64" text-anchor="end" class="tk">4</text>
<text x="125" y="1442.28" text-anchor="end" class="tk">5</text>
<text x="125" y="1405.93" text-anchor="end" class="tk">6</text>
<text x="125" y="1369.57" text-anchor="end" class="tk">7</text>
<text x="125" y="1333.21" text-anchor="end" class="tk">8</text>
<text x="125" y="1296.85" text-anchor="end" class="tk">9</text>
<text x="125" y="1260.49" text-anchor="end" class="tk">10</text>
<text x="125" y="1224.13" text-anchor="end" class="tk">11</text>
<text x="125" y="1187.77" text-anchor="end" class="tk">12</text>
<text x="137.4" y="1663.4" text-anchor="middle" class="tk">25</text>
<text x="311.06" y="1663.4" text-anchor="middle" class="tk">30</text>
<text x="484.72" y="1663.4" text-anchor="middle" class="tk">35</text>
<text x="658.38" y="1663.4" text-anchor="middle" class="tk">40</text>
<text x="832.04" y="1663.4" text-anchor="middle" class="tk">45</text>
<text x="155.6" y="1199.5" class="pl">PE</text>
</g>
<g id="pCR">
<path d="M1084.64 1157.7V1637M1242.59 1157.7V1637M1400.55 1157.7V1637M1558.5 1157.7V1637M1716.45 1157.7V1637M1002.5 1633.86H1767M1002.5 1597.5H1767M1002.5 1561.14H1767M1002.5 1524.78H1767M1002.5 1488.42H1767M1002.5 1452.06H1767M1002.5 1415.7H1767M1002.5 1379.35H1767M1002.5 1342.99H1767M1002.5 1306.63H1767M1002.5 1270.27H1767M1002.5 1233.91H1767M1002.5 1197.55H1767M1002.5 1161.19H1767" stroke="#f7f7f7" stroke-width="1.5" fill="none"/>
<path d="M1005.66 1157.7V1637M1163.61 1157.7V1637M1321.57 1157.7V1637M1479.52 1157.7V1637M1637.48 1157.7V1637M1002.5 1615.68H1767M1002.5 1579.32H1767M1002.5 1542.96H1767M1002.5 1506.6H1767M1002.5 1470.24H1767M1002.5 1433.88H1767M1002.5 1397.53H1767M1002.5 1361.17H1767M1002.5 1324.81H1767M1002.5 1288.45H1767M1002.5 1252.09H1767M1002.5 1215.73H1767M1002.5 1179.37H1767" stroke="#eeeeee" stroke-width="1.7" fill="none"/>
<g class="dots">
<g fill="#c4c4c4" stroke="#c4c4c4">
<circle cx="1605.89" cy="1179.37" r="0.95"/>
<circle cx="1542.7" cy="1215.73" r="0.95"/>
<circle cx="1605.89" cy="1252.09" r="0.95"/>
<circle cx="1669.07" cy="1252.09" r="1.9"/>
<circle cx="1605.89" cy="1324.81" r="1.9"/>
<circle cx="1542.7" cy="1361.17" r="0.95"/>
<circle cx="1605.89" cy="1361.17" r="0.95"/>
<circle cx="1479.52" cy="1397.53" r="1.9"/>
<circle cx="1447.93" cy="1433.88" r="0.95"/>
<circle cx="1353.16" cy="1542.96" r="0.95"/>
<circle cx="1384.75" cy="1579.32" r="1.9"/>
<circle cx="1037.25" cy="1615.68" r="0.95"/>
</g>
<g fill="#88a6cf" stroke="#88a6cf">
<circle cx="1669.07" cy="1179.37" r="2.4"/>
<circle cx="1732.25" cy="1179.37" r="1.9"/>
<circle cx="1669.07" cy="1215.73" r="1.9"/>
<circle cx="1605.89" cy="1288.45" r="2.4"/>
<circle cx="1574.3" cy="1361.17" r="2.4"/>
<circle cx="1384.75" cy="1542.96" r="1.9"/>
<circle cx="1416.34" cy="1542.96" r="2.4"/>
<circle cx="1479.52" cy="1542.96" r="2.4"/>
<circle cx="1416.34" cy="1579.32" r="1.9"/>
</g>
<g fill="#d4b494" stroke="#d4b494">
<circle cx="1605.89" cy="1215.73" r="1.9"/>
<circle cx="1542.7" cy="1252.09" r="2.85"/>
<circle cx="1542.7" cy="1288.45" r="2.85"/>
<circle cx="1479.52" cy="1324.81" r="2.85"/>
<circle cx="1542.7" cy="1324.81" r="1.9"/>
<circle cx="1416.34" cy="1361.17" r="2.4"/>
<circle cx="1479.52" cy="1361.17" r="1.9"/>
<circle cx="1416.34" cy="1397.53" r="2.85"/>
<circle cx="1447.93" cy="1397.53" r="1.9"/>
<circle cx="1416.34" cy="1433.88" r="2.4"/>
<circle cx="1479.52" cy="1433.88" r="0.95"/>
<circle cx="1416.34" cy="1470.24" r="2.4"/>
<circle cx="1479.52" cy="1470.24" r="0.95"/>
<circle cx="1353.16" cy="1506.6" r="2.85"/>
<circle cx="1416.34" cy="1506.6" r="0.95"/>
<circle cx="1479.52" cy="1506.6" r="0.95"/>
<circle cx="1321.57" cy="1542.96" r="1.9"/>
<circle cx="1258.39" cy="1579.32" r="2.4"/>
<circle cx="1289.98" cy="1579.32" r="1.9"/>
<circle cx="1321.57" cy="1579.32" r="0.95"/>
<circle cx="1353.16" cy="1579.32" r="0.95"/>
<circle cx="1479.52" cy="1579.32" r="0.95"/>
<circle cx="1258.39" cy="1615.68" r="0.95"/>
<circle cx="1289.98" cy="1615.68" r="1.9"/>
</g>
<g fill="#e88c05" stroke="#e88c05">
<circle cx="1637.48" cy="1361.17" r="1.9"/>
<circle cx="1669.07" cy="1361.17" r="1.9"/>
<circle cx="1574.3" cy="1397.53" r="0.95"/>
<circle cx="1353.16" cy="1433.88" r="3.25"/>
<circle cx="1574.3" cy="1433.88" r="1.9"/>
<circle cx="1605.89" cy="1433.88" r="2.4"/>
<circle cx="1637.48" cy="1433.88" r="3.25"/>
<circle cx="1353.16" cy="1470.24" r="2.85"/>
<circle cx="1605.89" cy="1470.24" r="2.4"/>
<circle cx="1226.8" cy="1542.96" r="2.85"/>
<circle cx="1226.8" cy="1579.32" r="2.85"/>
<circle cx="1511.11" cy="1579.32" r="3.25"/>
<circle cx="1542.7" cy="1579.32" r="2.4"/>
</g>
<g fill="#dfa45c" stroke="#dfa45c">
<circle cx="1353.16" cy="1397.53" r="1.9"/>
<circle cx="1542.7" cy="1397.53" r="1.9"/>
<circle cx="1384.75" cy="1433.88" r="2.4"/>
<circle cx="1542.7" cy="1433.88" r="0.95"/>
<circle cx="1384.75" cy="1470.24" r="2.85"/>
<circle cx="1447.93" cy="1470.24" r="2.4"/>
<circle cx="1542.7" cy="1470.24" r="1.9"/>
<circle cx="1289.98" cy="1506.6" r="2.4"/>
<circle cx="1289.98" cy="1542.96" r="3.7"/>
<circle cx="1511.11" cy="1542.96" r="2.4"/>
<circle cx="1542.7" cy="1542.96" r="1.9"/>
<circle cx="1447.93" cy="1579.32" r="2.4"/>
<circle cx="1163.61" cy="1615.68" r="2.85"/>
<circle cx="1195.2" cy="1615.68" r="1.9"/>
<circle cx="1226.8" cy="1615.68" r="2.4"/>
</g>
<g fill="#c87408" stroke="#c87408">
<circle cx="1605.89" cy="1397.53" r="2.85"/>
<circle cx="1637.48" cy="1397.53" r="3.25"/>
<circle cx="1669.07" cy="1397.53" r="2.85"/>
</g>
<g fill="#955508" stroke="#955508">
<circle cx="1669.07" cy="1433.88" r="2.4"/>
</g>
<g fill="#3079c4" stroke="#3079c4">
<circle cx="1447.93" cy="1542.96" r="1.9"/>
</g>
</g>
<rect x="1002.5" y="1157.7" width="764.5" height="479.3" fill="none" stroke="#8e8e8e" stroke-width="1.4"/>
<path d="M1005.66 1637V1639.3M1163.61 1637V1639.3M1321.57 1637V1639.3M1479.52 1637V1639.3M1637.48 1637V1639.3M1002.5 1615.68H1000.2M1002.5 1579.32H1000.2M1002.5 1542.96H1000.2M1002.5 1506.6H1000.2M1002.5 1470.24H1000.2M1002.5 1433.88H1000.2M1002.5 1397.53H1000.2M1002.5 1361.17H1000.2M1002.5 1324.81H1000.2M1002.5 1288.45H1000.2M1002.5 1252.09H1000.2M1002.5 1215.73H1000.2M1002.5 1179.37H1000.2" stroke="#333" stroke-width="1.5" fill="none"/>
<text x="990.2" y="1624.08" text-anchor="end" class="tk">0</text>
<text x="990.2" y="1587.72" text-anchor="end" class="tk">1</text>
<text x="990.2" y="1551.36" text-anchor="end" class="tk">2</text>
<text x="990.2" y="1515" text-anchor="end" class="tk">3</text>
<text x="990.2" y="1478.64" text-anchor="end" class="tk">4</text>
<text x="990.2" y="1442.28" text-anchor="end" class="tk">5</text>
<text x="990.2" y="1405.93" text-anchor="end" class="tk">6</text>
<text x="990.2" y="1369.57" text-anchor="end" class="tk">7</text>
<text x="990.2" y="1333.21" text-anchor="end" class="tk">8</text>
<text x="990.2" y="1296.85" text-anchor="end" class="tk">9</text>
<text x="990.2" y="1260.49" text-anchor="end" class="tk">10</text>
<text x="990.2" y="1224.13" text-anchor="end" class="tk">11</text>
<text x="990.2" y="1187.77" text-anchor="end" class="tk">12</text>
<text x="1005.66" y="1663.4" text-anchor="middle" class="tk">25</text>
<text x="1163.61" y="1663.4" text-anchor="middle" class="tk">30</text>
<text x="1321.57" y="1663.4" text-anchor="middle" class="tk">35</text>
<text x="1479.52" y="1663.4" text-anchor="middle" class="tk">40</text>
<text x="1637.48" y="1663.4" text-anchor="middle" class="tk">45</text>
<text x="1020.7" y="1199.5" class="pl">PE</text>
</g>
<g id="pDL">
<path d="M179.27 1696.6V2175.9M251.64 1696.6V2175.9M324.01 1696.6V2175.9M396.38 1696.6V2175.9M468.74 1696.6V2175.9M541.11 1696.6V2175.9M613.48 1696.6V2175.9M685.85 1696.6V2175.9M758.21 1696.6V2175.9M830.58 1696.6V2175.9M137.3 2169.13H901.5M137.3 2140.04H901.5M137.3 2110.95H901.5M137.3 2081.86H901.5M137.3 2052.78H901.5M137.3 2023.69H901.5M137.3 1994.6H901.5M137.3 1965.51H901.5M137.3 1936.42H901.5M137.3 1907.34H901.5M137.3 1878.25H901.5M137.3 1849.16H901.5M137.3 1820.07H901.5M137.3 1790.99H901.5M137.3 1761.9H901.5M137.3 1732.81H901.5M137.3 1703.72H901.5" stroke="#f7f7f7" stroke-width="1.5" fill="none"/>
<path d="M143.09 1696.6V2175.9M215.46 1696.6V2175.9M287.82 1696.6V2175.9M360.19 1696.6V2175.9M432.56 1696.6V2175.9M504.93 1696.6V2175.9M577.29 1696.6V2175.9M649.66 1696.6V2175.9M722.03 1696.6V2175.9M794.4 1696.6V2175.9M866.76 1696.6V2175.9M137.3 2154.58H901.5M137.3 2125.5H901.5M137.3 2096.41H901.5M137.3 2067.32H901.5M137.3 2038.23H901.5M137.3 2009.14H901.5M137.3 1980.06H901.5M137.3 1950.97H901.5M137.3 1921.88H901.5M137.3 1892.79H901.5M137.3 1863.71H901.5M137.3 1834.62H901.5M137.3 1805.53H901.5M137.3 1776.44H901.5M137.3 1747.35H901.5M137.3 1718.27H901.5" stroke="#eeeeee" stroke-width="1.7" fill="none"/>
<g class="dots">
<g fill="#3079c4" stroke="#3079c4">
<circle cx="606.24" cy="1718.27" r="2.4"/>
<circle cx="606.24" cy="1747.35" r="2.4"/>
<circle cx="606.24" cy="1776.44" r="2.4"/>
<circle cx="606.24" cy="1805.53" r="1.9"/>
<circle cx="606.24" cy="1834.62" r="1.9"/>
<circle cx="591.77" cy="1892.79" r="1.9"/>
<circle cx="577.29" cy="1921.88" r="2.4"/>
<circle cx="591.77" cy="1921.88" r="0.95"/>
<circle cx="606.24" cy="1921.88" r="2.85"/>
<circle cx="345.72" cy="1950.97" r="1.9"/>
<circle cx="577.29" cy="1950.97" r="2.85"/>
<circle cx="432.56" cy="1980.06" r="1.9"/>
<circle cx="461.51" cy="1980.06" r="1.9"/>
<circle cx="316.77" cy="2009.14" r="1.9"/>
<circle cx="447.03" cy="2009.14" r="1.9"/>
<circle cx="562.82" cy="2009.14" r="2.85"/>
<circle cx="258.88" cy="2038.23" r="1.9"/>
<circle cx="316.77" cy="2038.23" r="1.9"/>
<circle cx="374.67" cy="2038.23" r="1.9"/>
<circle cx="519.4" cy="2038.23" r="2.4"/>
<circle cx="533.87" cy="2038.23" r="2.85"/>
<circle cx="591.77" cy="2038.23" r="2.85"/>
<circle cx="302.3" cy="2067.32" r="1.9"/>
<circle cx="331.24" cy="2067.32" r="2.4"/>
<circle cx="345.72" cy="2067.32" r="1.9"/>
<circle cx="562.82" cy="2067.32" r="2.85"/>
<circle cx="620.71" cy="2067.32" r="1.9"/>
<circle cx="866.76" cy="2067.32" r="2.4"/>
<circle cx="244.4" cy="2096.41" r="1.9"/>
<circle cx="316.77" cy="2096.41" r="1.9"/>
<circle cx="345.72" cy="2096.41" r="1.9"/>
<circle cx="403.61" cy="2096.41" r="1.9"/>
<circle cx="475.98" cy="2096.41" r="2.4"/>
<circle cx="490.45" cy="2096.41" r="2.4"/>
<circle cx="533.87" cy="2096.41" r="2.4"/>
<circle cx="823.34" cy="2096.41" r="2.4"/>
<circle cx="287.82" cy="2125.5" r="1.9"/>
<circle cx="345.72" cy="2125.5" r="1.9"/>
<circle cx="374.67" cy="2125.5" r="1.9"/>
<circle cx="461.51" cy="2125.5" r="1.9"/>
<circle cx="475.98" cy="2125.5" r="1.9"/>
<circle cx="490.45" cy="2125.5" r="1.9"/>
<circle cx="504.93" cy="2125.5" r="1.9"/>
<circle cx="229.93" cy="2154.58" r="1.9"/>
<circle cx="258.88" cy="2154.58" r="1.9"/>
<circle cx="432.56" cy="2154.58" r="1.9"/>
<circle cx="461.51" cy="2154.58" r="1.9"/>
<circle cx="750.98" cy="2154.58" r="2.85"/>
</g>
<g fill="#88a6cf" stroke="#88a6cf">
<circle cx="577.29" cy="1776.44" r="2.4"/>
<circle cx="548.35" cy="1805.53" r="1.9"/>
<circle cx="577.29" cy="1805.53" r="2.4"/>
<circle cx="548.35" cy="1834.62" r="1.9"/>
<circle cx="577.29" cy="1834.62" r="1.9"/>
<circle cx="519.4" cy="1863.71" r="1.9"/>
<circle cx="533.87" cy="1863.71" r="2.4"/>
<circle cx="548.35" cy="1863.71" r="1.9"/>
<circle cx="504.93" cy="1892.79" r="1.9"/>
<circle cx="519.4" cy="1892.79" r="2.4"/>
<circle cx="533.87" cy="1892.79" r="2.4"/>
<circle cx="548.35" cy="1892.79" r="2.4"/>
<circle cx="664.13" cy="1892.79" r="1.9"/>
<circle cx="504.93" cy="1921.88" r="1.9"/>
<circle cx="533.87" cy="1921.88" r="2.4"/>
<circle cx="548.35" cy="1921.88" r="2.4"/>
<circle cx="635.19" cy="1921.88" r="2.85"/>
<circle cx="331.24" cy="1950.97" r="1.9"/>
<circle cx="360.19" cy="1950.97" r="1.9"/>
<circle cx="374.67" cy="1950.97" r="0.95"/>
<circle cx="389.14" cy="1950.97" r="1.9"/>
<circle cx="447.03" cy="1950.97" r="1.9"/>
<circle cx="475.98" cy="1950.97" r="1.9"/>
<circle cx="490.45" cy="1950.97" r="1.9"/>
<circle cx="533.87" cy="1950.97" r="2.4"/>
<circle cx="548.35" cy="1950.97" r="2.4"/>
<circle cx="345.72" cy="1980.06" r="1.9"/>
<circle cx="389.14" cy="1980.06" r="1.9"/>
<circle cx="403.61" cy="1980.06" r="0.95"/>
<circle cx="475.98" cy="1980.06" r="1.9"/>
<circle cx="490.45" cy="1980.06" r="1.9"/>
<circle cx="533.87" cy="1980.06" r="3.25"/>
<circle cx="548.35" cy="1980.06" r="2.4"/>
<circle cx="591.77" cy="1980.06" r="3.25"/>
<circle cx="331.24" cy="2009.14" r="1.9"/>
<circle cx="345.72" cy="2009.14" r="0.95"/>
<circle cx="374.67" cy="2009.14" r="0.95"/>
<circle cx="389.14" cy="2009.14" r="2.4"/>
<circle cx="475.98" cy="2009.14" r="1.9"/>
<circle cx="504.93" cy="2009.14" r="2.85"/>
<circle cx="519.4" cy="2009.14" r="2.4"/>
<circle cx="591.77" cy="2009.14" r="1.9"/>
<circle cx="331.24" cy="2038.23" r="1.9"/>
<circle cx="345.72" cy="2038.23" r="0.95"/>
<circle cx="360.19" cy="2038.23" r="1.9"/>
<circle cx="447.03" cy="2038.23" r="1.9"/>
<circle cx="461.51" cy="2038.23" r="1.9"/>
<circle cx="475.98" cy="2038.23" r="2.4"/>
<circle cx="620.71" cy="2038.23" r="2.4"/>
<circle cx="649.66" cy="2038.23" r="1.9"/>
<circle cx="837.82" cy="2038.23" r="1.9"/>
<circle cx="866.76" cy="2038.23" r="1.9"/>
<circle cx="360.19" cy="2067.32" r="2.4"/>
<circle cx="389.14" cy="2067.32" r="1.9"/>
<circle cx="447.03" cy="2067.32" r="1.9"/>
<circle cx="750.98" cy="2067.32" r="1.9"/>
<circle cx="779.92" cy="2067.32" r="1.9"/>
<circle cx="794.4" cy="2067.32" r="1.9"/>
<circle cx="808.87" cy="2067.32" r="1.9"/>
<circle cx="823.34" cy="2067.32" r="1.9"/>
<circle cx="837.82" cy="2067.32" r="1.9"/>
<circle cx="331.24" cy="2096.41" r="1.9"/>
<circle cx="360.19" cy="2096.41" r="1.9"/>
<circle cx="389.14" cy="2096.41" r="1.9"/>
<circle cx="418.09" cy="2096.41" r="1.9"/>
<circle cx="432.56" cy="2096.41" r="1.9"/>
<circle cx="447.03" cy="2096.41" r="1.9"/>
<circle cx="620.71" cy="2096.41" r="0.95"/>
<circle cx="779.92" cy="2096.41" r="1.9"/>
<circle cx="794.4" cy="2096.41" r="1.9"/>
<circle cx="808.87" cy="2096.41" r="1.9"/>
<circle cx="837.82" cy="2096.41" r="1.9"/>
<circle cx="172.04" cy="2125.5" r="2.4"/>
<circle cx="186.51" cy="2125.5" r="2.4"/>
<circle cx="215.46" cy="2125.5" r="0.95"/>
<circle cx="302.3" cy="2125.5" r="1.9"/>
<circle cx="389.14" cy="2125.5" r="1.9"/>
<circle cx="432.56" cy="2125.5" r="1.9"/>
<circle cx="533.87" cy="2125.5" r="1.9"/>
<circle cx="548.35" cy="2125.5" r="1.9"/>
<circle cx="562.82" cy="2125.5" r="1.9"/>
<circle cx="591.77" cy="2125.5" r="1.9"/>
<circle cx="172.04" cy="2154.58" r="2.4"/>
<circle cx="186.51" cy="2154.58" r="2.4"/>
<circle cx="244.4" cy="2154.58" r="1.9"/>
<circle cx="273.35" cy="2154.58" r="1.9"/>
<circle cx="287.82" cy="2154.58" r="1.9"/>
<circle cx="345.72" cy="2154.58" r="1.9"/>
<circle cx="374.67" cy="2154.58" r="1.9"/>
<circle cx="447.03" cy="2154.58" r="1.9"/>
<circle cx="475.98" cy="2154.58" r="2.4"/>
<circle cx="490.45" cy="2154.58" r="2.4"/>
<circle cx="504.93" cy="2154.58" r="2.4"/>
<circle cx="519.4" cy="2154.58" r="1.9"/>
<circle cx="533.87" cy="2154.58" r="1.9"/>
<circle cx="562.82" cy="2154.58" r="2.85"/>
<circle cx="577.29" cy="2154.58" r="2.4"/>
<circle cx="591.77" cy="2154.58" r="1.9"/>
<circle cx="620.71" cy="2154.58" r="1.9"/>
<circle cx="635.19" cy="2154.58" r="1.9"/>
<circle cx="649.66" cy="2154.58" r="2.4"/>
<circle cx="664.13" cy="2154.58" r="2.4"/>
<circle cx="678.61" cy="2154.58" r="2.4"/>
<circle cx="693.08" cy="2154.58" r="2.4"/>
<circle cx="707.56" cy="2154.58" r="3.7"/>
<circle cx="722.03" cy="2154.58" r="2.4"/>
</g>
<g fill="#dfa45c" stroke="#dfa45c">
<circle cx="519.4" cy="1834.62" r="1.9"/>
<circle cx="635.19" cy="1863.71" r="1.9"/>
<circle cx="664.13" cy="1863.71" r="1.9"/>
<circle cx="620.71" cy="1950.97" r="0.95"/>
<circle cx="664.13" cy="1950.97" r="2.4"/>
<circle cx="331.24" cy="1980.06" r="1.9"/>
<circle cx="374.67" cy="1980.06" r="1.9"/>
<circle cx="635.19" cy="1980.06" r="3.7"/>
<circle cx="649.66" cy="1980.06" r="3.25"/>
<circle cx="722.03" cy="2009.14" r="2.85"/>
<circle cx="750.98" cy="2009.14" r="3.7"/>
<circle cx="779.92" cy="2009.14" r="2.85"/>
<circle cx="837.82" cy="2009.14" r="2.4"/>
<circle cx="693.08" cy="2038.23" r="2.4"/>
<circle cx="707.56" cy="2038.23" r="2.4"/>
<circle cx="722.03" cy="2038.23" r="2.4"/>
<circle cx="736.5" cy="2038.23" r="2.4"/>
<circle cx="765.45" cy="2038.23" r="2.4"/>
<circle cx="664.13" cy="2067.32" r="2.4"/>
<circle cx="678.61" cy="2067.32" r="2.4"/>
<circle cx="693.08" cy="2067.32" r="2.4"/>
<circle cx="707.56" cy="2067.32" r="2.4"/>
<circle cx="649.66" cy="2096.41" r="2.4"/>
<circle cx="664.13" cy="2096.41" r="2.4"/>
<circle cx="678.61" cy="2096.41" r="2.4"/>
<circle cx="693.08" cy="2096.41" r="2.4"/>
<circle cx="635.19" cy="2125.5" r="2.85"/>
<circle cx="664.13" cy="2125.5" r="2.4"/>
<circle cx="693.08" cy="2125.5" r="2.4"/>
</g>
<g fill="#c4c4c4" stroke="#c4c4c4">
<circle cx="591.77" cy="1834.62" r="0.95"/>
<circle cx="591.77" cy="1863.71" r="0.95"/>
<circle cx="562.82" cy="1892.79" r="0.95"/>
<circle cx="606.24" cy="1892.79" r="1.9"/>
<circle cx="475.98" cy="1921.88" r="0.95"/>
<circle cx="519.4" cy="1921.88" r="1.9"/>
<circle cx="403.61" cy="1950.97" r="0.95"/>
<circle cx="504.93" cy="1950.97" r="1.9"/>
<circle cx="519.4" cy="1950.97" r="1.9"/>
<circle cx="635.19" cy="1950.97" r="1.9"/>
<circle cx="360.19" cy="1980.06" r="0.95"/>
<circle cx="504.93" cy="1980.06" r="0.95"/>
<circle cx="519.4" cy="1980.06" r="1.9"/>
<circle cx="606.24" cy="1980.06" r="1.9"/>
<circle cx="620.71" cy="1980.06" r="1.9"/>
<circle cx="779.92" cy="2038.23" r="0.95"/>
<circle cx="808.87" cy="2038.23" r="0.95"/>
<circle cx="258.88" cy="2067.32" r="1.9"/>
<circle cx="287.82" cy="2067.32" r="1.9"/>
<circle cx="461.51" cy="2067.32" r="1.9"/>
<circle cx="736.5" cy="2067.32" r="0.95"/>
<circle cx="765.45" cy="2067.32" r="0.95"/>
<circle cx="258.88" cy="2096.41" r="1.9"/>
<circle cx="461.51" cy="2096.41" r="1.9"/>
<circle cx="577.29" cy="2096.41" r="0.95"/>
<circle cx="736.5" cy="2096.41" r="0.95"/>
<circle cx="750.98" cy="2096.41" r="0.95"/>
<circle cx="765.45" cy="2096.41" r="0.95"/>
<circle cx="331.24" cy="2125.5" r="1.9"/>
<circle cx="360.19" cy="2125.5" r="0.95"/>
<circle cx="418.09" cy="2125.5" r="0.95"/>
<circle cx="707.56" cy="2125.5" r="0.95"/>
<circle cx="736.5" cy="2125.5" r="0.95"/>
<circle cx="750.98" cy="2125.5" r="0.95"/>
<circle cx="200.98" cy="2154.58" r="0.95"/>
<circle cx="302.3" cy="2154.58" r="2.4"/>
<circle cx="331.24" cy="2154.58" r="1.9"/>
<circle cx="548.35" cy="2154.58" r="1.9"/>
</g>
<g fill="#e88c05" stroke="#e88c05">
<circle cx="562.82" cy="1863.71" r="1.9"/>
<circle cx="678.61" cy="1921.88" r="2.85"/>
<circle cx="678.61" cy="1950.97" r="3.7"/>
<circle cx="808.87" cy="1950.97" r="3.25"/>
<circle cx="678.61" cy="1980.06" r="3.25"/>
<circle cx="779.92" cy="1980.06" r="2.85"/>
<circle cx="635.19" cy="2009.14" r="3.25"/>
<circle cx="736.5" cy="2009.14" r="3.7"/>
<circle cx="765.45" cy="2009.14" r="3.7"/>
<circle cx="794.4" cy="2009.14" r="2.85"/>
</g>
<g fill="#6290c8" stroke="#6290c8">
<circle cx="577.29" cy="1863.71" r="1.9"/>
<circle cx="490.45" cy="1892.79" r="1.9"/>
<circle cx="577.29" cy="1892.79" r="1.9"/>
<circle cx="635.19" cy="1892.79" r="1.9"/>
<circle cx="432.56" cy="1921.88" r="1.9"/>
<circle cx="461.51" cy="1921.88" r="1.9"/>
<circle cx="490.45" cy="1921.88" r="1.9"/>
<circle cx="432.56" cy="1950.97" r="1.9"/>
<circle cx="461.51" cy="1950.97" r="1.9"/>
<circle cx="562.82" cy="1950.97" r="1.9"/>
<circle cx="591.77" cy="1950.97" r="2.4"/>
<circle cx="606.24" cy="1950.97" r="2.85"/>
<circle cx="447.03" cy="1980.06" r="1.9"/>
<circle cx="562.82" cy="1980.06" r="2.85"/>
<circle cx="577.29" cy="1980.06" r="3.25"/>
<circle cx="418.09" cy="2009.14" r="1.9"/>
<circle cx="461.51" cy="2009.14" r="1.9"/>
<circle cx="490.45" cy="2009.14" r="1.9"/>
<circle cx="533.87" cy="2009.14" r="3.25"/>
<circle cx="548.35" cy="2009.14" r="3.25"/>
<circle cx="577.29" cy="2009.14" r="2.4"/>
<circle cx="273.35" cy="2038.23" r="1.9"/>
<circle cx="302.3" cy="2038.23" r="1.9"/>
<circle cx="389.14" cy="2038.23" r="1.9"/>
<circle cx="490.45" cy="2038.23" r="2.4"/>
<circle cx="504.93" cy="2038.23" r="2.85"/>
<circle cx="577.29" cy="2038.23" r="3.7"/>
<circle cx="273.35" cy="2067.32" r="1.9"/>
<circle cx="418.09" cy="2067.32" r="1.9"/>
<circle cx="432.56" cy="2067.32" r="1.9"/>
<circle cx="475.98" cy="2067.32" r="2.4"/>
<circle cx="490.45" cy="2067.32" r="2.4"/>
<circle cx="577.29" cy="2067.32" r="2.4"/>
<circle cx="591.77" cy="2067.32" r="2.4"/>
<circle cx="852.29" cy="2067.32" r="1.9"/>
<circle cx="200.98" cy="2096.41" r="1.9"/>
<circle cx="273.35" cy="2096.41" r="1.9"/>
<circle cx="302.3" cy="2096.41" r="1.9"/>
<circle cx="548.35" cy="2096.41" r="2.4"/>
<circle cx="562.82" cy="2096.41" r="2.4"/>
<circle cx="591.77" cy="2096.41" r="2.4"/>
<circle cx="200.98" cy="2125.5" r="1.9"/>
<circle cx="244.4" cy="2125.5" r="1.9"/>
<circle cx="273.35" cy="2125.5" r="1.9"/>
<circle cx="316.77" cy="2125.5" r="1.9"/>
<circle cx="403.61" cy="2125.5" r="1.9"/>
<circle cx="519.4" cy="2125.5" r="1.9"/>
<circle cx="403.61" cy="2154.58" r="1.9"/>
<circle cx="606.24" cy="2154.58" r="2.4"/>
<circle cx="736.5" cy="2154.58" r="2.4"/>
</g>
<g fill="#d4b494" stroke="#d4b494">
<circle cx="606.24" cy="1863.71" r="0.95"/>
<circle cx="664.13" cy="1921.88" r="1.9"/>
<circle cx="649.66" cy="1950.97" r="1.9"/>
<circle cx="606.24" cy="2009.14" r="1.9"/>
<circle cx="620.71" cy="2009.14" r="1.9"/>
<circle cx="649.66" cy="2009.14" r="2.4"/>
<circle cx="808.87" cy="2009.14" r="2.4"/>
<circle cx="866.76" cy="2009.14" r="1.9"/>
<circle cx="635.19" cy="2038.23" r="2.4"/>
<circle cx="678.61" cy="2038.23" r="1.9"/>
<circle cx="750.98" cy="2038.23" r="1.9"/>
<circle cx="794.4" cy="2038.23" r="1.9"/>
<circle cx="823.34" cy="2038.23" r="1.9"/>
<circle cx="606.24" cy="2067.32" r="0.95"/>
<circle cx="635.19" cy="2067.32" r="1.9"/>
<circle cx="649.66" cy="2067.32" r="1.9"/>
<circle cx="722.03" cy="2067.32" r="1.9"/>
<circle cx="606.24" cy="2096.41" r="1.9"/>
<circle cx="635.19" cy="2096.41" r="1.9"/>
<circle cx="707.56" cy="2096.41" r="1.9"/>
<circle cx="722.03" cy="2096.41" r="1.9"/>
<circle cx="447.03" cy="2125.5" r="1.9"/>
<circle cx="577.29" cy="2125.5" r="1.9"/>
<circle cx="606.24" cy="2125.5" r="1.9"/>
<circle cx="620.71" cy="2125.5" r="1.9"/>
<circle cx="649.66" cy="2125.5" r="2.4"/>
<circle cx="678.61" cy="2125.5" r="2.4"/>
<circle cx="722.03" cy="2125.5" r="1.9"/>
<circle cx="360.19" cy="2154.58" r="1.9"/>
<circle cx="389.14" cy="2154.58" r="1.9"/>
<circle cx="418.09" cy="2154.58" r="1.9"/>
</g>
<g fill="#1f6ab9" stroke="#1f6ab9">
<circle cx="562.82" cy="1921.88" r="2.85"/>
<circle cx="403.61" cy="2009.14" r="1.9"/>
<circle cx="432.56" cy="2009.14" r="1.9"/>
<circle cx="403.61" cy="2038.23" r="1.9"/>
<circle cx="418.09" cy="2038.23" r="1.9"/>
<circle cx="432.56" cy="2038.23" r="1.9"/>
<circle cx="548.35" cy="2038.23" r="2.4"/>
<circle cx="562.82" cy="2038.23" r="1.9"/>
<circle cx="606.24" cy="2038.23" r="2.85"/>
<circle cx="316.77" cy="2067.32" r="1.9"/>
<circle cx="374.67" cy="2067.32" r="1.9"/>
<circle cx="403.61" cy="2067.32" r="1.9"/>
<circle cx="504.93" cy="2067.32" r="2.4"/>
<circle cx="519.4" cy="2067.32" r="2.4"/>
<circle cx="533.87" cy="2067.32" r="2.4"/>
<circle cx="548.35" cy="2067.32" r="2.85"/>
<circle cx="374.67" cy="2096.41" r="1.9"/>
<circle cx="504.93" cy="2096.41" r="2.4"/>
<circle cx="519.4" cy="2096.41" r="2.4"/>
</g>
<g fill="#c87408" stroke="#c87408">
<circle cx="750.98" cy="1950.97" r="3.25"/>
<circle cx="779.92" cy="1950.97" r="3.25"/>
<circle cx="722.03" cy="1980.06" r="3.7"/>
<circle cx="750.98" cy="1980.06" r="3.25"/>
<circle cx="808.87" cy="1980.06" r="3.25"/>
</g>
<g fill="#124a8c" stroke="#124a8c">
<circle cx="287.82" cy="2038.23" r="1.9"/>
<circle cx="229.93" cy="2067.32" r="1.9"/>
<circle cx="229.93" cy="2096.41" r="1.9"/>
<circle cx="287.82" cy="2096.41" r="1.9"/>
<circle cx="229.93" cy="2125.5" r="1.9"/>
<circle cx="258.88" cy="2125.5" r="1.9"/>
</g>
<circle cx="606.24" cy="2038.23" r="1.9" fill="#d4b494" stroke="#d4b494"/>
<circle cx="620.71" cy="2067.32" r="0.95" fill="#d4b494" stroke="#d4b494"/>
<circle cx="591.77" cy="2096.41" r="0.95" fill="#d4b494" stroke="#d4b494"/>
<circle cx="389.14" cy="2125.5" r="0.95" fill="#d4b494" stroke="#d4b494"/>
<circle cx="591.77" cy="2125.5" r="0.95" fill="#d4b494" stroke="#d4b494"/>
</g>
<rect x="137.3" y="1696.6" width="764.2" height="479.3" fill="none" stroke="#8e8e8e" stroke-width="1.4"/>
<path d="M143.09 2175.9V2178.2M215.46 2175.9V2178.2M287.82 2175.9V2178.2M360.19 2175.9V2178.2M432.56 2175.9V2178.2M504.93 2175.9V2178.2M577.29 2175.9V2178.2M649.66 2175.9V2178.2M722.03 2175.9V2178.2M794.4 2175.9V2178.2M866.76 2175.9V2178.2M137.3 2154.58H135M137.3 2125.5H135M137.3 2096.41H135M137.3 2067.32H135M137.3 2038.23H135M137.3 2009.14H135M137.3 1980.06H135M137.3 1950.97H135M137.3 1921.88H135M137.3 1892.79H135M137.3 1863.71H135M137.3 1834.62H135M137.3 1805.53H135M137.3 1776.44H135M137.3 1747.35H135M137.3 1718.27H135" stroke="#333" stroke-width="1.5" fill="none"/>
<text x="125" y="2162.98" text-anchor="end" class="tk">0</text>
<text x="125" y="2133.9" text-anchor="end" class="tk">1</text>
<text x="125" y="2104.81" text-anchor="end" class="tk">2</text>
<text x="125" y="2075.72" text-anchor="end" class="tk">3</text>
<text x="125" y="2046.63" text-anchor="end" class="tk">4</text>
<text x="125" y="2017.54" text-anchor="end" class="tk">5</text>
<text x="125" y="1988.46" text-anchor="end" class="tk">6</text>
<text x="125" y="1959.37" text-anchor="end" class="tk">7</text>
<text x="125" y="1930.28" text-anchor="end" class="tk">8</text>
<text x="125" y="1901.19" text-anchor="end" class="tk">9</text>
<text x="125" y="1872.11" text-anchor="end" class="tk">10</text>
<text x="125" y="1843.02" text-anchor="end" class="tk">11</text>
<text x="125" y="1813.93" text-anchor="end" class="tk">12</text>
<text x="125" y="1784.84" text-anchor="end" class="tk">13</text>
<text x="125" y="1755.75" text-anchor="end" class="tk">14</text>
<text x="125" y="1726.67" text-anchor="end" class="tk">15</text>
<text x="143.09" y="2202.3" text-anchor="middle" class="tk">30</text>
<text x="215.46" y="2202.3" text-anchor="middle" class="tk">35</text>
<text x="287.82" y="2202.3" text-anchor="middle" class="tk">40</text>
<text x="360.19" y="2202.3" text-anchor="middle" class="tk">45</text>
<text x="432.56" y="2202.3" text-anchor="middle" class="tk">50</text>
<text x="504.93" y="2202.3" text-anchor="middle" class="tk">55</text>
<text x="577.29" y="2202.3" text-anchor="middle" class="tk">60</text>
<text x="649.66" y="2202.3" text-anchor="middle" class="tk">65</text>
<text x="722.03" y="2202.3" text-anchor="middle" class="tk">70</text>
<text x="794.4" y="2202.3" text-anchor="middle" class="tk">75</text>
<text x="866.76" y="2202.3" text-anchor="middle" class="tk">80</text>
<text x="155.5" y="1738.4" class="pl">TG</text>
</g>
<g id="pDR">
<path d="M1002.5 1696.6V2175.9M1072 1696.6V2175.9M1141.5 1696.6V2175.9M1211 1696.6V2175.9M1280.5 1696.6V2175.9M1350 1696.6V2175.9M1419.5 1696.6V2175.9M1489 1696.6V2175.9M1558.5 1696.6V2175.9M1628 1696.6V2175.9M1697.5 1696.6V2175.9M1767 1696.6V2175.9M1002.5 2166.7H1767M1002.5 2142.46H1767M1002.5 2118.22H1767M1002.5 2093.98H1767M1002.5 2069.74H1767M1002.5 2045.5H1767M1002.5 2021.26H1767M1002.5 1997.02H1767M1002.5 1972.78H1767M1002.5 1948.54H1767M1002.5 1924.31H1767M1002.5 1900.07H1767M1002.5 1875.83H1767M1002.5 1851.59H1767M1002.5 1827.35H1767M1002.5 1803.11H1767M1002.5 1778.87H1767M1002.5 1754.63H1767M1002.5 1730.39H1767M1002.5 1706.15H1767" stroke="#f7f7f7" stroke-width="1.5" fill="none"/>
<path d="M1037.25 1696.6V2175.9M1106.75 1696.6V2175.9M1176.25 1696.6V2175.9M1245.75 1696.6V2175.9M1315.25 1696.6V2175.9M1384.75 1696.6V2175.9M1454.25 1696.6V2175.9M1523.75 1696.6V2175.9M1593.25 1696.6V2175.9M1662.75 1696.6V2175.9M1732.25 1696.6V2175.9M1002.5 2154.58H1767M1002.5 2130.34H1767M1002.5 2106.1H1767M1002.5 2081.86H1767M1002.5 2057.62H1767M1002.5 2033.38H1767M1002.5 2009.14H1767M1002.5 1984.9H1767M1002.5 1960.66H1767M1002.5 1936.42H1767M1002.5 1912.19H1767M1002.5 1887.95H1767M1002.5 1863.71H1767M1002.5 1839.47H1767M1002.5 1815.23H1767M1002.5 1790.99H1767M1002.5 1766.75H1767M1002.5 1742.51H1767M1002.5 1718.27H1767" stroke="#eeeeee" stroke-width="1.7" fill="none"/>
<g class="dots">
<g fill="#d4b494" stroke="#d4b494">
<circle cx="1537.65" cy="1718.27" r="2.4"/>
<circle cx="1509.85" cy="1766.75" r="1.9"/>
<circle cx="1537.65" cy="1766.75" r="0.95"/>
<circle cx="1509.85" cy="1790.99" r="1.9"/>
<circle cx="1482.05" cy="1815.23" r="1.9"/>
<circle cx="1454.25" cy="1839.47" r="2.4"/>
<circle cx="1482.05" cy="1839.47" r="0.95"/>
<circle cx="1454.25" cy="1863.71" r="2.4"/>
<circle cx="1468.15" cy="1863.71" r="2.4"/>
<circle cx="1495.95" cy="1863.71" r="2.85"/>
<circle cx="1426.45" cy="1887.95" r="1.9"/>
<circle cx="1482.05" cy="1887.95" r="0.95"/>
<circle cx="1426.45" cy="1912.19" r="1.9"/>
<circle cx="1468.15" cy="1912.19" r="1.9"/>
<circle cx="1482.05" cy="1912.19" r="1.9"/>
<circle cx="1426.45" cy="1936.42" r="0.95"/>
<circle cx="1454.25" cy="1936.42" r="1.9"/>
<circle cx="1440.35" cy="1960.66" r="1.9"/>
<circle cx="1454.25" cy="1960.66" r="1.9"/>
<circle cx="1495.95" cy="1960.66" r="0.95"/>
<circle cx="1482.05" cy="1984.9" r="0.95"/>
<circle cx="1454.25" cy="2009.14" r="0.95"/>
<circle cx="1551.55" cy="2009.14" r="1.9"/>
<circle cx="1454.25" cy="2033.38" r="1.9"/>
<circle cx="1509.85" cy="2033.38" r="1.9"/>
<circle cx="1523.75" cy="2033.38" r="2.4"/>
<circle cx="1551.55" cy="2033.38" r="1.9"/>
<circle cx="1579.35" cy="2033.38" r="0.95"/>
<circle cx="1259.65" cy="2057.62" r="1.9"/>
<circle cx="1454.25" cy="2057.62" r="1.9"/>
<circle cx="1509.85" cy="2057.62" r="2.4"/>
<circle cx="1523.75" cy="2057.62" r="2.4"/>
<circle cx="1537.65" cy="2057.62" r="3.25"/>
<circle cx="1565.45" cy="2057.62" r="2.4"/>
<circle cx="1579.35" cy="2057.62" r="2.4"/>
<circle cx="1217.95" cy="2081.86" r="1.9"/>
<circle cx="1245.75" cy="2081.86" r="0.95"/>
<circle cx="1468.15" cy="2081.86" r="1.9"/>
<circle cx="1482.05" cy="2081.86" r="2.85"/>
<circle cx="1495.95" cy="2081.86" r="1.9"/>
<circle cx="1509.85" cy="2081.86" r="2.4"/>
<circle cx="1523.75" cy="2081.86" r="1.9"/>
<circle cx="1579.35" cy="2081.86" r="1.9"/>
<circle cx="1593.25" cy="2081.86" r="2.4"/>
<circle cx="1148.45" cy="2106.1" r="0.95"/>
<circle cx="1162.35" cy="2106.1" r="1.9"/>
<circle cx="1176.25" cy="2106.1" r="0.95"/>
<circle cx="1204.05" cy="2106.1" r="0.95"/>
<circle cx="1412.55" cy="2106.1" r="1.9"/>
<circle cx="1426.45" cy="2106.1" r="1.9"/>
<circle cx="1440.35" cy="2106.1" r="2.4"/>
<circle cx="1454.25" cy="2106.1" r="1.9"/>
<circle cx="1468.15" cy="2106.1" r="2.4"/>
<circle cx="1482.05" cy="2106.1" r="1.9"/>
<circle cx="1495.95" cy="2106.1" r="2.4"/>
<circle cx="1509.85" cy="2106.1" r="1.9"/>
<circle cx="1523.75" cy="2106.1" r="2.4"/>
<circle cx="1537.65" cy="2106.1" r="1.9"/>
<circle cx="1551.55" cy="2106.1" r="2.4"/>
<circle cx="1579.35" cy="2106.1" r="2.85"/>
<circle cx="1134.55" cy="2130.34" r="0.95"/>
<circle cx="1148.45" cy="2130.34" r="0.95"/>
<circle cx="1245.75" cy="2130.34" r="0.95"/>
<circle cx="1384.75" cy="2130.34" r="2.4"/>
<circle cx="1398.65" cy="2130.34" r="1.9"/>
<circle cx="1412.55" cy="2130.34" r="2.85"/>
<circle cx="1426.45" cy="2130.34" r="2.4"/>
<circle cx="1440.35" cy="2130.34" r="2.4"/>
<circle cx="1454.25" cy="2130.34" r="2.4"/>
<circle cx="1468.15" cy="2130.34" r="2.4"/>
<circle cx="1482.05" cy="2130.34" r="1.9"/>
<circle cx="1495.95" cy="2130.34" r="1.9"/>
<circle cx="1509.85" cy="2130.34" r="2.4"/>
<circle cx="1523.75" cy="2130.34" r="0.95"/>
<circle cx="1551.55" cy="2130.34" r="2.4"/>
<circle cx="1037.25" cy="2154.58" r="1.9"/>
<circle cx="1051.15" cy="2154.58" r="1.9"/>
<circle cx="1148.45" cy="2154.58" r="1.9"/>
<circle cx="1176.25" cy="2154.58" r="1.9"/>
<circle cx="1204.05" cy="2154.58" r="0.95"/>
<circle cx="1259.65" cy="2154.58" r="0.95"/>
<circle cx="1273.55" cy="2154.58" r="0.95"/>
<circle cx="1287.45" cy="2154.58" r="0.95"/>
<circle cx="1301.35" cy="2154.58" r="0.95"/>
<circle cx="1329.15" cy="2154.58" r="1.9"/>
<circle cx="1370.85" cy="2154.58" r="0.95"/>
<circle cx="1384.75" cy="2154.58" r="2.85"/>
<circle cx="1398.65" cy="2154.58" r="2.4"/>
<circle cx="1412.55" cy="2154.58" r="2.4"/>
<circle cx="1426.45" cy="2154.58" r="2.4"/>
<circle cx="1440.35" cy="2154.58" r="1.9"/>
<circle cx="1454.25" cy="2154.58" r="2.4"/>
<circle cx="1468.15" cy="2154.58" r="0.95"/>
<circle cx="1495.95" cy="2154.58" r="0.95"/>
</g>
<g fill="#c4c4c4" stroke="#c4c4c4">
<circle cx="1509.85" cy="1815.23" r="1.9"/>
<circle cx="1704.45" cy="1839.47" r="3.25"/>
<circle cx="1732.25" cy="1839.47" r="2.85"/>
<circle cx="1426.45" cy="1863.71" r="0.95"/>
<circle cx="1732.25" cy="1863.71" r="2.85"/>
<circle cx="1454.25" cy="1887.95" r="0.95"/>
<circle cx="1648.85" cy="1887.95" r="2.85"/>
<circle cx="1704.45" cy="1887.95" r="2.4"/>
<circle cx="1732.25" cy="1887.95" r="2.4"/>
<circle cx="1495.95" cy="1912.19" r="0.95"/>
<circle cx="1676.65" cy="1912.19" r="2.4"/>
<circle cx="1704.45" cy="1912.19" r="2.4"/>
<circle cx="1732.25" cy="1912.19" r="2.4"/>
<circle cx="1398.65" cy="1936.42" r="0.95"/>
<circle cx="1468.15" cy="1936.42" r="0.95"/>
<circle cx="1676.65" cy="1936.42" r="2.4"/>
<circle cx="1398.65" cy="1960.66" r="0.95"/>
<circle cx="1621.05" cy="1960.66" r="2.4"/>
<circle cx="1648.85" cy="1960.66" r="2.4"/>
<circle cx="1704.45" cy="1960.66" r="2.85"/>
<circle cx="1732.25" cy="1960.66" r="2.85"/>
<circle cx="1370.85" cy="1984.9" r="0.95"/>
<circle cx="1384.75" cy="1984.9" r="0.95"/>
<circle cx="1398.65" cy="1984.9" r="1.9"/>
<circle cx="1662.75" cy="1984.9" r="2.85"/>
<circle cx="1676.65" cy="1984.9" r="3.25"/>
<circle cx="1690.55" cy="1984.9" r="2.85"/>
<circle cx="1704.45" cy="1984.9" r="3.25"/>
<circle cx="1732.25" cy="1984.9" r="3.25"/>
<circle cx="1370.85" cy="2009.14" r="1.9"/>
<circle cx="1676.65" cy="2009.14" r="2.85"/>
<circle cx="1704.45" cy="2009.14" r="2.85"/>
<circle cx="1732.25" cy="2009.14" r="2.85"/>
<circle cx="1398.65" cy="2033.38" r="0.95"/>
<circle cx="1440.35" cy="2033.38" r="0.95"/>
<circle cx="1648.85" cy="2033.38" r="2.85"/>
<circle cx="1676.65" cy="2033.38" r="2.85"/>
<circle cx="1704.45" cy="2033.38" r="2.85"/>
<circle cx="1273.55" cy="2057.62" r="0.95"/>
<circle cx="1301.35" cy="2057.62" r="1.9"/>
<circle cx="1551.55" cy="2057.62" r="0.95"/>
<circle cx="1676.65" cy="2057.62" r="3.25"/>
<circle cx="1704.45" cy="2057.62" r="3.25"/>
<circle cx="1176.25" cy="2081.86" r="1.9"/>
<circle cx="1231.85" cy="2081.86" r="0.95"/>
<circle cx="1259.65" cy="2081.86" r="1.9"/>
<circle cx="1301.35" cy="2081.86" r="1.9"/>
<circle cx="1537.65" cy="2081.86" r="0.95"/>
<circle cx="1551.55" cy="2081.86" r="0.95"/>
<circle cx="1565.45" cy="2081.86" r="0.95"/>
<circle cx="1120.65" cy="2106.1" r="0.95"/>
<circle cx="1217.95" cy="2106.1" r="0.95"/>
<circle cx="1231.85" cy="2106.1" r="0.95"/>
<circle cx="1245.75" cy="2106.1" r="1.9"/>
<circle cx="1259.65" cy="2106.1" r="1.9"/>
<circle cx="1273.55" cy="2106.1" r="1.9"/>
<circle cx="1301.35" cy="2106.1" r="1.9"/>
<circle cx="1329.15" cy="2106.1" r="1.9"/>
<circle cx="1384.75" cy="2106.1" r="1.9"/>
<circle cx="1078.95" cy="2130.34" r="0.95"/>
<circle cx="1106.75" cy="2130.34" r="0.95"/>
<circle cx="1176.25" cy="2130.34" r="0.95"/>
<circle cx="1204.05" cy="2130.34" r="0.95"/>
<circle cx="1217.95" cy="2130.34" r="0.95"/>
<circle cx="1231.85" cy="2130.34" r="1.9"/>
<circle cx="1259.65" cy="2130.34" r="0.95"/>
<circle cx="1273.55" cy="2130.34" r="0.95"/>
<circle cx="1287.45" cy="2130.34" r="0.95"/>
<circle cx="1301.35" cy="2130.34" r="0.95"/>
<circle cx="1315.25" cy="2130.34" r="0.95"/>
<circle cx="1329.15" cy="2130.34" r="0.95"/>
<circle cx="1356.95" cy="2130.34" r="0.95"/>
<circle cx="1065.05" cy="2154.58" r="0.95"/>
<circle cx="1078.95" cy="2154.58" r="0.95"/>
<circle cx="1092.85" cy="2154.58" r="0.95"/>
<circle cx="1106.75" cy="2154.58" r="1.9"/>
<circle cx="1120.65" cy="2154.58" r="0.95"/>
<circle cx="1134.55" cy="2154.58" r="0.95"/>
<circle cx="1162.35" cy="2154.58" r="0.95"/>
<circle cx="1190.15" cy="2154.58" r="0.95"/>
<circle cx="1217.95" cy="2154.58" r="1.9"/>
<circle cx="1245.75" cy="2154.58" r="0.95"/>
<circle cx="1482.05" cy="2154.58" r="0.95"/>
<circle cx="1523.75" cy="2154.58" r="1.9"/>
<circle cx="1537.65" cy="2154.58" r="0.95"/>
<circle cx="1551.55" cy="2154.58" r="0.95"/>
<circle cx="1565.45" cy="2154.58" r="0.95"/>
</g>
<g fill="#88a6cf" stroke="#88a6cf">
<circle cx="1509.85" cy="1839.47" r="2.85"/>
<circle cx="1482.05" cy="1863.71" r="1.9"/>
<circle cx="1495.95" cy="1887.95" r="1.9"/>
<circle cx="1454.25" cy="1912.19" r="1.9"/>
<circle cx="1579.35" cy="1912.19" r="1.9"/>
<circle cx="1370.85" cy="1960.66" r="2.4"/>
<circle cx="1412.55" cy="1960.66" r="1.9"/>
<circle cx="1426.45" cy="1960.66" r="1.9"/>
<circle cx="1468.15" cy="1960.66" r="1.9"/>
<circle cx="1579.35" cy="1960.66" r="0.95"/>
<circle cx="1412.55" cy="1984.9" r="2.4"/>
<circle cx="1426.45" cy="1984.9" r="2.4"/>
<circle cx="1440.35" cy="1984.9" r="1.9"/>
<circle cx="1454.25" cy="1984.9" r="1.9"/>
<circle cx="1468.15" cy="1984.9" r="2.4"/>
<circle cx="1398.65" cy="2009.14" r="2.4"/>
<circle cx="1412.55" cy="2009.14" r="2.85"/>
<circle cx="1440.35" cy="2009.14" r="1.9"/>
<circle cx="1468.15" cy="2009.14" r="1.9"/>
<circle cx="1329.15" cy="2033.38" r="1.9"/>
<circle cx="1412.55" cy="2033.38" r="1.9"/>
<circle cx="1217.95" cy="2057.62" r="1.9"/>
<circle cx="1245.75" cy="2057.62" r="0.95"/>
<circle cx="1287.45" cy="2057.62" r="2.4"/>
<circle cx="1329.15" cy="2057.62" r="2.4"/>
<circle cx="1398.65" cy="2057.62" r="1.9"/>
<circle cx="1412.55" cy="2057.62" r="2.4"/>
<circle cx="1204.05" cy="2081.86" r="1.9"/>
<circle cx="1273.55" cy="2081.86" r="1.9"/>
<circle cx="1287.45" cy="2081.86" r="1.9"/>
<circle cx="1329.15" cy="2081.86" r="2.4"/>
<circle cx="1384.75" cy="2081.86" r="1.9"/>
<circle cx="1412.55" cy="2081.86" r="1.9"/>
<circle cx="1426.45" cy="2081.86" r="1.9"/>
<circle cx="1190.15" cy="2106.1" r="1.9"/>
<circle cx="1287.45" cy="2106.1" r="1.9"/>
<circle cx="1315.25" cy="2106.1" r="1.9"/>
<circle cx="1343.05" cy="2106.1" r="1.9"/>
<circle cx="1356.95" cy="2106.1" r="1.9"/>
<circle cx="1370.85" cy="2106.1" r="1.9"/>
<circle cx="1398.65" cy="2106.1" r="1.9"/>
<circle cx="1092.85" cy="2130.34" r="0.95"/>
<circle cx="1120.65" cy="2130.34" r="1.9"/>
<circle cx="1162.35" cy="2130.34" r="2.4"/>
<circle cx="1190.15" cy="2130.34" r="1.9"/>
<circle cx="1343.05" cy="2130.34" r="2.4"/>
<circle cx="1370.85" cy="2130.34" r="2.85"/>
<circle cx="1231.85" cy="2154.58" r="1.9"/>
<circle cx="1315.25" cy="2154.58" r="2.4"/>
<circle cx="1343.05" cy="2154.58" r="3.25"/>
<circle cx="1356.95" cy="2154.58" r="2.85"/>
<circle cx="1509.85" cy="2154.58" r="1.9"/>
<circle cx="1579.35" cy="2154.58" r="1.9"/>
<circle cx="1593.25" cy="2154.58" r="1.9"/>
<circle cx="1607.15" cy="2154.58" r="1.9"/>
<circle cx="1621.05" cy="2154.58" r="0.95"/>
</g>
<g fill="#955508" stroke="#955508">
<circle cx="1676.65" cy="1839.47" r="2.85"/>
<circle cx="1704.45" cy="1863.71" r="3.25"/>
<circle cx="1676.65" cy="1887.95" r="2.85"/>
<circle cx="1621.05" cy="1912.19" r="2.85"/>
<circle cx="1648.85" cy="1912.19" r="2.85"/>
<circle cx="1676.65" cy="1960.66" r="3.25"/>
<circle cx="1648.85" cy="2057.62" r="3.25"/>
<circle cx="1676.65" cy="2106.1" r="2.85"/>
</g>
<g fill="#e88c05" stroke="#e88c05">
<circle cx="1509.85" cy="1863.71" r="1.9"/>
<circle cx="1509.85" cy="1887.95" r="1.9"/>
<circle cx="1398.65" cy="1912.19" r="1.9"/>
<circle cx="1509.85" cy="1912.19" r="2.4"/>
<circle cx="1482.05" cy="1936.42" r="1.9"/>
<circle cx="1648.85" cy="1936.42" r="1.9"/>
<circle cx="1482.05" cy="1960.66" r="1.9"/>
<circle cx="1509.85" cy="1984.9" r="2.4"/>
<circle cx="1593.25" cy="1984.9" r="2.4"/>
<circle cx="1482.05" cy="2009.14" r="1.9"/>
<circle cx="1509.85" cy="2009.14" r="1.9"/>
<circle cx="1593.25" cy="2009.14" r="3.25"/>
<circle cx="1468.15" cy="2033.38" r="2.4"/>
<circle cx="1482.05" cy="2033.38" r="1.9"/>
<circle cx="1593.25" cy="2033.38" r="2.85"/>
<circle cx="1593.25" cy="2057.62" r="2.85"/>
<circle cx="1134.55" cy="2106.1" r="2.4"/>
<circle cx="1593.25" cy="2106.1" r="3.25"/>
<circle cx="1621.05" cy="2106.1" r="3.7"/>
<circle cx="1634.95" cy="2106.1" r="3.25"/>
<circle cx="1593.25" cy="2130.34" r="3.7"/>
<circle cx="1621.05" cy="2130.34" r="3.25"/>
</g>
<g fill="#c87408" stroke="#c87408">
<circle cx="1648.85" cy="1863.71" r="3.25"/>
<circle cx="1676.65" cy="1863.71" r="3.25"/>
<circle cx="1495.95" cy="1984.9" r="1.9"/>
<circle cx="1621.05" cy="1984.9" r="3.25"/>
<circle cx="1648.85" cy="1984.9" r="3.25"/>
<circle cx="1495.95" cy="2009.14" r="2.4"/>
<circle cx="1621.05" cy="2009.14" r="3.25"/>
<circle cx="1648.85" cy="2009.14" r="2.85"/>
<circle cx="1621.05" cy="2033.38" r="2.85"/>
<circle cx="1621.05" cy="2057.62" r="3.7"/>
<circle cx="1648.85" cy="2106.1" r="3.7"/>
<circle cx="1648.85" cy="2130.34" r="3.25"/>
</g>
<g fill="#dfa45c" stroke="#dfa45c">
<circle cx="1565.45" cy="1984.9" r="2.4"/>
<circle cx="1537.65" cy="2009.14" r="2.4"/>
<circle cx="1565.45" cy="2009.14" r="2.4"/>
<circle cx="1495.95" cy="2033.38" r="2.4"/>
<circle cx="1537.65" cy="2033.38" r="2.4"/>
<circle cx="1565.45" cy="2033.38" r="3.25"/>
<circle cx="1440.35" cy="2057.62" r="1.9"/>
<circle cx="1468.15" cy="2057.62" r="2.85"/>
<circle cx="1482.05" cy="2057.62" r="2.4"/>
<circle cx="1495.95" cy="2057.62" r="2.4"/>
<circle cx="1621.05" cy="2081.86" r="3.25"/>
<circle cx="1565.45" cy="2106.1" r="3.25"/>
<circle cx="1607.15" cy="2106.1" r="2.85"/>
<circle cx="1065.05" cy="2130.34" r="1.9"/>
<circle cx="1537.65" cy="2130.34" r="3.7"/>
<circle cx="1565.45" cy="2130.34" r="3.7"/>
<circle cx="1579.35" cy="2130.34" r="3.25"/>
<circle cx="1607.15" cy="2130.34" r="2.85"/>
<circle cx="1634.95" cy="2130.34" r="3.25"/>
</g>
<g fill="#6290c8" stroke="#6290c8">
<circle cx="1384.75" cy="2009.14" r="1.9"/>
<circle cx="1426.45" cy="2009.14" r="2.4"/>
<circle cx="1315.25" cy="2033.38" r="1.9"/>
<circle cx="1356.95" cy="2033.38" r="1.9"/>
<circle cx="1370.85" cy="2033.38" r="1.9"/>
<circle cx="1384.75" cy="2033.38" r="2.4"/>
<circle cx="1426.45" cy="2033.38" r="1.9"/>
<circle cx="1732.25" cy="2033.38" r="2.4"/>
<circle cx="1190.15" cy="2057.62" r="1.9"/>
<circle cx="1315.25" cy="2057.62" r="1.9"/>
<circle cx="1356.95" cy="2057.62" r="1.9"/>
<circle cx="1370.85" cy="2057.62" r="1.9"/>
<circle cx="1384.75" cy="2057.62" r="2.4"/>
<circle cx="1426.45" cy="2057.62" r="1.9"/>
<circle cx="1148.45" cy="2081.86" r="1.9"/>
<circle cx="1190.15" cy="2081.86" r="2.4"/>
<circle cx="1315.25" cy="2081.86" r="1.9"/>
<circle cx="1343.05" cy="2081.86" r="2.4"/>
<circle cx="1356.95" cy="2081.86" r="1.9"/>
<circle cx="1370.85" cy="2081.86" r="1.9"/>
<circle cx="1398.65" cy="2081.86" r="1.9"/>
<circle cx="1440.35" cy="2081.86" r="1.9"/>
<circle cx="1454.25" cy="2081.86" r="2.4"/>
<circle cx="1634.95" cy="2154.58" r="1.9"/>
</g>
<g fill="#3079c4" stroke="#3079c4">
<circle cx="1343.05" cy="2033.38" r="1.9"/>
<circle cx="1343.05" cy="2057.62" r="1.9"/>
</g>
<circle cx="1426.45" cy="2033.38" r="0.95" fill="#d4b494" stroke="#d4b494"/>
<circle cx="1426.45" cy="2057.62" r="0.95" fill="#d4b494" stroke="#d4b494"/>
<circle cx="1440.35" cy="2081.86" r="0.95" fill="#d4b494" stroke="#d4b494"/>
<circle cx="1454.25" cy="2081.86" r="1.9" fill="#d4b494" stroke="#d4b494"/>
</g>
<rect x="1002.5" y="1696.6" width="764.5" height="479.3" fill="none" stroke="#8e8e8e" stroke-width="1.4"/>
<path d="M1037.25 2175.9V2178.2M1106.75 2175.9V2178.2M1176.25 2175.9V2178.2M1245.75 2175.9V2178.2M1315.25 2175.9V2178.2M1384.75 2175.9V2178.2M1454.25 2175.9V2178.2M1523.75 2175.9V2178.2M1593.25 2175.9V2178.2M1662.75 2175.9V2178.2M1732.25 2175.9V2178.2M1002.5 2154.58H1000.2M1002.5 2130.34H1000.2M1002.5 2106.1H1000.2M1002.5 2081.86H1000.2M1002.5 2057.62H1000.2M1002.5 2033.38H1000.2M1002.5 2009.14H1000.2M1002.5 1984.9H1000.2M1002.5 1960.66H1000.2M1002.5 1936.42H1000.2M1002.5 1912.19H1000.2M1002.5 1887.95H1000.2M1002.5 1863.71H1000.2M1002.5 1839.47H1000.2M1002.5 1815.23H1000.2M1002.5 1790.99H1000.2M1002.5 1766.75H1000.2M1002.5 1742.51H1000.2M1002.5 1718.27H1000.2" stroke="#333" stroke-width="1.5" fill="none"/>
<text x="990.2" y="2162.98" text-anchor="end" class="tk">0</text>
<text x="990.2" y="2138.74" text-anchor="end" class="tk">1</text>
<text x="990.2" y="2114.5" text-anchor="end" class="tk">2</text>
<text x="990.2" y="2090.26" text-anchor="end" class="tk">3</text>
<text x="990.2" y="2066.02" text-anchor="end" class="tk">4</text>
<text x="990.2" y="2041.78" text-anchor="end" class="tk">5</text>
<text x="990.2" y="2017.54" text-anchor="end" class="tk">6</text>
<text x="990.2" y="1993.3" text-anchor="end" class="tk">7</text>
<text x="990.2" y="1969.06" text-anchor="end" class="tk">8</text>
<text x="990.2" y="1944.83" text-anchor="end" class="tk">9</text>
<text x="990.2" y="1920.59" text-anchor="end" class="tk">10</text>
<text x="990.2" y="1896.35" text-anchor="end" class="tk">11</text>
<text x="990.2" y="1872.11" text-anchor="end" class="tk">12</text>
<text x="990.2" y="1847.87" text-anchor="end" class="tk">13</text>
<text x="990.2" y="1823.63" text-anchor="end" class="tk">14</text>
<text x="990.2" y="1799.39" text-anchor="end" class="tk">15</text>
<text x="990.2" y="1775.15" text-anchor="end" class="tk">16</text>
<text x="990.2" y="1750.91" text-anchor="end" class="tk">17</text>
<text x="990.2" y="1726.67" text-anchor="end" class="tk">18</text>
<text x="1037.25" y="2202.3" text-anchor="middle" class="tk">30</text>
<text x="1106.75" y="2202.3" text-anchor="middle" class="tk">35</text>
<text x="1176.25" y="2202.3" text-anchor="middle" class="tk">40</text>
<text x="1245.75" y="2202.3" text-anchor="middle" class="tk">45</text>
<text x="1315.25" y="2202.3" text-anchor="middle" class="tk">50</text>
<text x="1384.75" y="2202.3" text-anchor="middle" class="tk">55</text>
<text x="1454.25" y="2202.3" text-anchor="middle" class="tk">60</text>
<text x="1523.75" y="2202.3" text-anchor="middle" class="tk">65</text>
<text x="1593.25" y="2202.3" text-anchor="middle" class="tk">70</text>
<text x="1662.75" y="2202.3" text-anchor="middle" class="tk">75</text>
<text x="1732.25" y="2202.3" text-anchor="middle" class="tk">80</text>
<text x="1020.7" y="1738.4" class="pl">TG</text>
</g>
<g>
<text transform="matrix(0.3346 0 0 0.3734 44.09 108.16)" class="let">(</text>
<text transform="matrix(0.3621 0 0 0.4203 56.40 111.00)" class="let">A</text>
<text transform="matrix(0.3346 0 0 0.3734 81.97 108.16)" class="let">)</text>
</g>
<g>
<text transform="matrix(0.3346 0 0 0.3755 44.09 649.01)" class="let">(</text>
<text transform="matrix(0.3528 0 0 0.4203 56.18 651.90)" class="let">B</text>
<text transform="matrix(0.3115 0 0 0.3755 80.69 649.01)" class="let">)</text>
</g>
<g>
<text transform="matrix(0.3231 0 0 0.3755 43.56 1184.01)" class="let">(</text>
<text transform="matrix(0.3460 0 0 0.4099 54.87 1186.49)" class="let">C</text>
<text transform="matrix(0.3192 0 0 0.3755 82.18 1184.01)" class="let">)</text>
</g>
<g>
<text transform="matrix(0.3192 0 0 0.3755 42.18 1722.01)" class="let">(</text>
<text transform="matrix(0.4034 0 0 0.4203 53.57 1724.90)" class="let">D</text>
<text transform="matrix(0.3192 0 0 0.3755 82.88 1722.01)" class="let">)</text>
</g>
<text x="501.9" y="34.7" text-anchor="middle" class="ti">Liver</text>
<text x="1365.5" y="35.1" text-anchor="middle" class="ti">Cerebellum</text>
<text x="951.8" y="2301.6" text-anchor="middle" class="at">sum of carbon atoms in fatty acid side chain(s)</text>
<text transform="translate(30.1 1128.6) rotate(-90)" text-anchor="middle" class="at">sum of double bonds in fatty acid side chain(s)</text>
<rect x="115.9" y="2288" width="41" height="10.84" fill="#8a5a22"/>
<rect x="115.9" y="2298.24" width="41" height="10.84" fill="#a36a28"/>
<rect x="115.9" y="2308.48" width="41" height="10.84" fill="#b37628"/>
<rect x="115.9" y="2318.72" width="41" height="10.84" fill="#c5822a"/>
<rect x="115.9" y="2328.96" width="41" height="10.84" fill="#d38a26"/>
<rect x="115.9" y="2339.2" width="41" height="10.84" fill="#da8f22"/>
<rect x="115.9" y="2349.44" width="41" height="10.84" fill="#e89a22"/>
<rect x="115.9" y="2359.68" width="41" height="10.84" fill="#eda846"/>
<rect x="115.9" y="2369.92" width="41" height="10.84" fill="#e8b67c"/>
<rect x="115.9" y="2380.16" width="41" height="10.84" fill="#ddcdb8"/>
<rect x="115.9" y="2390.4" width="41" height="10.84" fill="#c2cbd8"/>
<rect x="115.9" y="2400.64" width="41" height="10.84" fill="#9cb4d5"/>
<rect x="115.9" y="2410.88" width="41" height="10.84" fill="#70a1d3"/>
<rect x="115.9" y="2421.12" width="41" height="10.84" fill="#4a90d0"/>
<rect x="115.9" y="2431.36" width="41" height="10.84" fill="#4889c5"/>
<rect x="115.9" y="2441.6" width="41" height="10.84" fill="#4787c0"/>
<rect x="115.9" y="2451.84" width="41" height="10.84" fill="#4581b8"/>
<rect x="115.9" y="2462.08" width="41" height="10.84" fill="#4178aa"/>
<rect x="115.9" y="2472.32" width="41" height="10.84" fill="#3d6e9b"/>
<rect x="115.9" y="2482.56" width="41" height="10.84" fill="#38648f"/>
<text transform="translate(170 2301.2) scale(0.97 1)" class="lg">5.0</text>
<text transform="translate(170 2350.1) scale(0.97 1)" class="lg">2.5</text>
<text transform="translate(170 2398.6) scale(0.97 1)" class="lg">0.0</text>
<text transform="translate(170 2447.4) scale(0.97 1)" class="lg">−2.5</text>
<text transform="translate(170 2496.2) scale(0.97 1)" class="lg">−5.0</text>
<path d="M115.9 2293h8M156.9 2293h-8M115.9 2341.9h8M156.9 2341.9h-8M115.9 2390.4h8M156.9 2390.4h-8M115.9 2439.2h8M156.9 2439.2h-8M115.9 2488h8M156.9 2488h-8" stroke="#fff" stroke-width="1.4" fill="none"/>
<text x="104" y="2255" class="lt2">2</text>
<text x="117.5" y="2271.4" class="lt">log(fold change)</text>
<text x="1656.5" y="2271.6" class="lt">p-value</text>
<circle cx="1671.1" cy="2326" r="2.8" fill="#000"/>
<text transform="translate(1691.6 2331.8) scale(0.91 1)" class="lg">0.1</text>
<circle cx="1671.1" cy="2380.5" r="3.2" fill="#000"/>
<text transform="translate(1691.6 2386.3) scale(0.93 1)" class="lg">0.01</text>
<circle cx="1671.1" cy="2435.1" r="3.8" fill="#000"/>
<text transform="translate(1691.6 2440.9) scale(0.935 1)" class="lg">0.001</text>
<circle cx="1671.1" cy="2489.5" r="4.1" fill="#000"/>
<text transform="translate(1691.6 2495.3) scale(0.94 1)" class="lg">0.0001</text>
</svg>
</body></html>
